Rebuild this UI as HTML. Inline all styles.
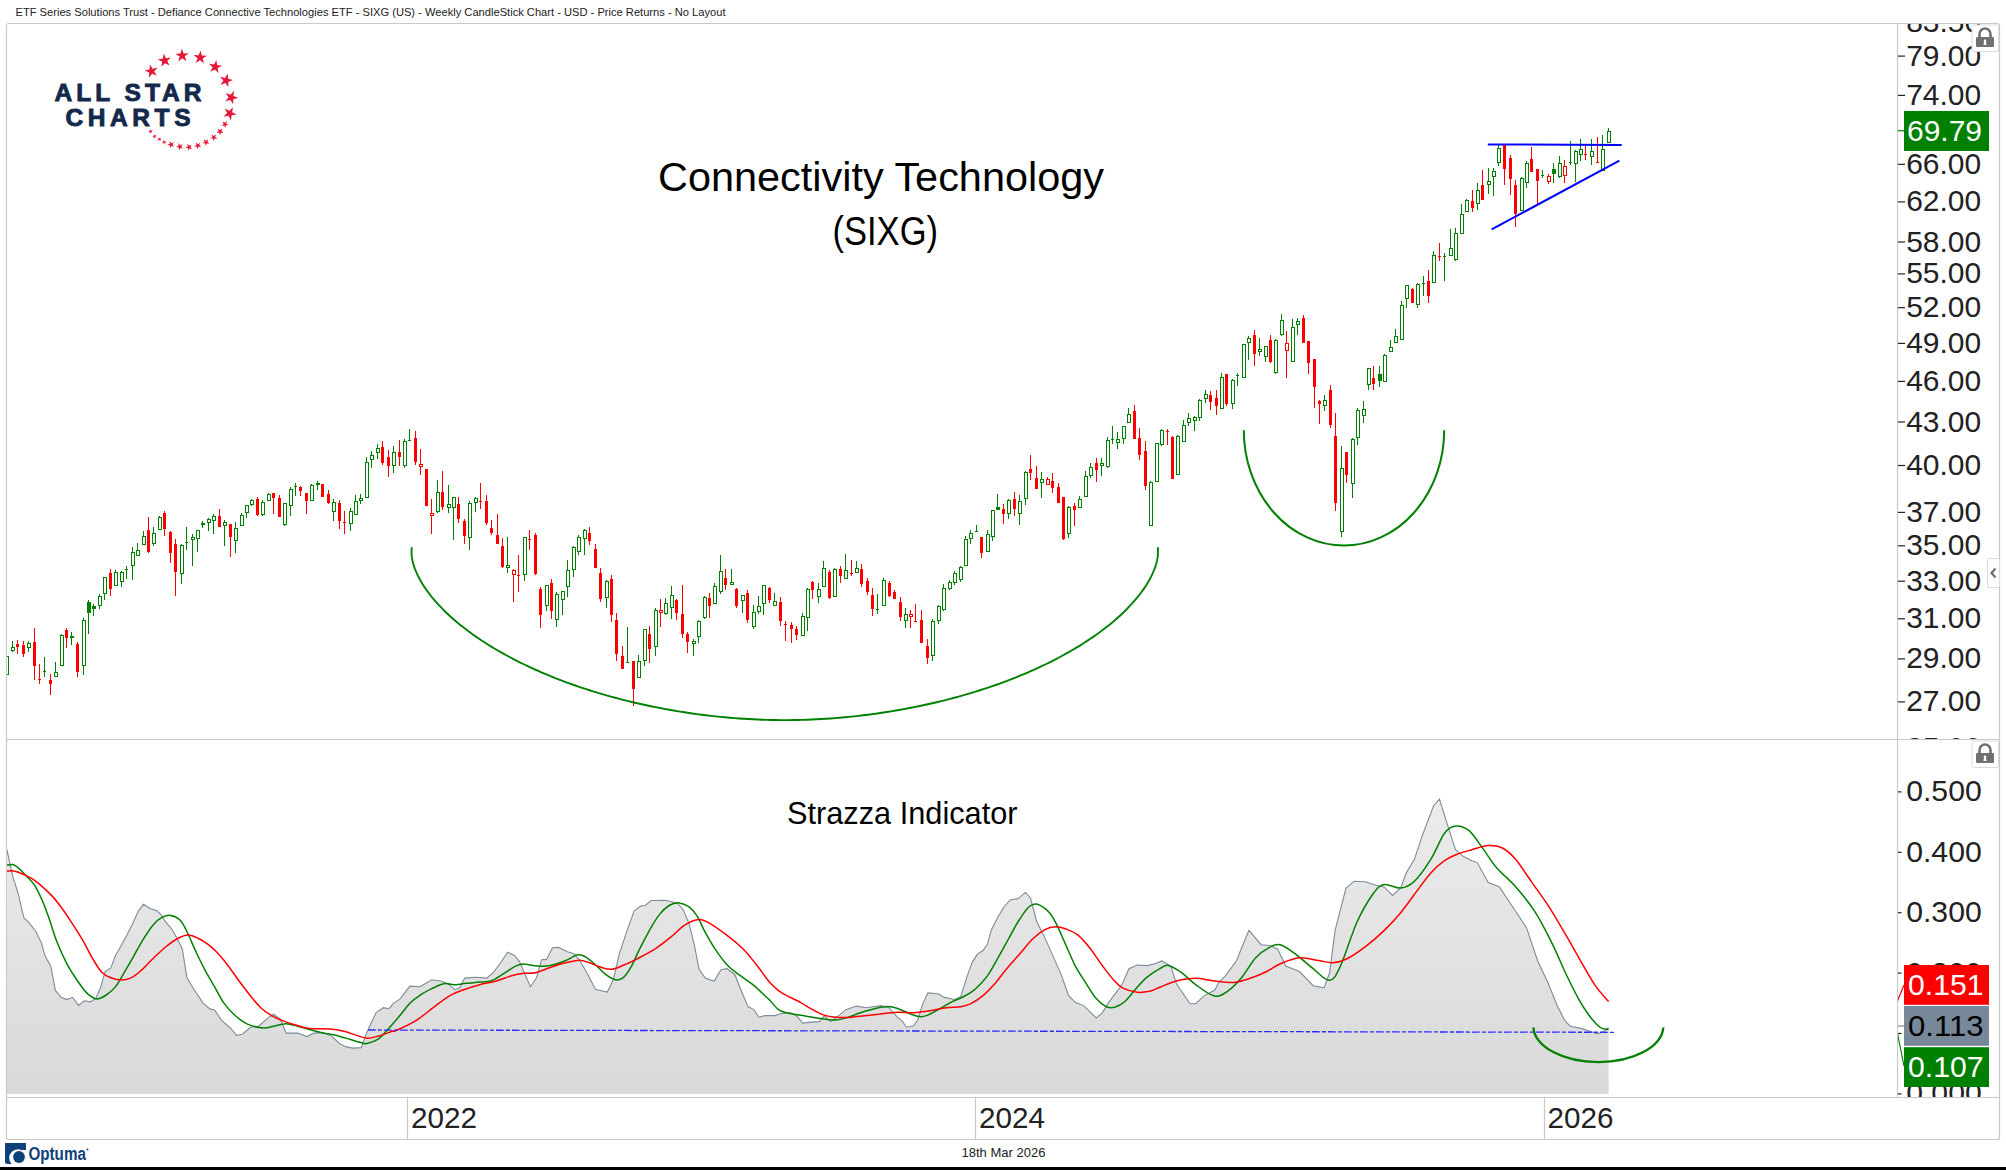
<!DOCTYPE html>
<html><head><meta charset="utf-8"><title>SIXG Weekly Chart</title>
<style>
html,body{margin:0;padding:0;background:#fff;width:2006px;height:1170px;overflow:hidden;}
svg{display:block;font-family:"Liberation Sans", sans-serif;}
</style></head><body>
<svg width="2006" height="1170" viewBox="0 0 2006 1170">
<defs>
<linearGradient id="gf" x1="0" y1="795" x2="0" y2="1094" gradientUnits="userSpaceOnUse">
<stop offset="0" stop-color="#ececec"/><stop offset="1" stop-color="#d9d9d9"/>
</linearGradient>
<clipPath id="cp1"><rect x="7" y="24" width="1890" height="715"/></clipPath>
<clipPath id="cp2"><rect x="7" y="740" width="1890" height="357"/></clipPath>
<clipPath id="ax1"><rect x="1898" y="24" width="101" height="715"/></clipPath>
<clipPath id="ax2"><rect x="1898" y="740" width="101" height="357"/></clipPath>
<symbol id="star" viewBox="-1 -1 2 2"><polygon points="0,-1 0.2245,-0.309 0.951,-0.309 0.363,0.118 0.588,0.809 0,0.382 -0.588,0.809 -0.363,0.118 -0.951,-0.309 -0.2245,-0.309" fill="#e31937"/></symbol>
</defs>
<rect width="2006" height="1170" fill="#fff"/>
<text x="15.5" y="16" font-size="11" fill="#222" textLength="710" lengthAdjust="spacingAndGlyphs">ETF Series Solutions Trust - Defiance Connective Technologies ETF - SIXG (US) - Weekly CandleStick Chart - USD - Price Returns - No Layout</text>
<rect x="6.5" y="23.5" width="1993" height="1116" rx="2" fill="none" stroke="#c9c9c9" stroke-width="1.2"/>
<line x1="1897.5" y1="23.5" x2="1897.5" y2="1097.5" stroke="#c9c9c9" stroke-width="1.2"/>
<line x1="6.5" y1="739.5" x2="1999.5" y2="739.5" stroke="#c9c9c9" stroke-width="1.2"/>
<line x1="6.5" y1="1097.5" x2="1999.5" y2="1097.5" stroke="#c9c9c9" stroke-width="1.2"/>
<line x1="407.5" y1="1097.5" x2="407.5" y2="1139.5" stroke="#c9c9c9" stroke-width="1.2"/>
<line x1="975.5" y1="1097.5" x2="975.5" y2="1139.5" stroke="#c9c9c9" stroke-width="1.2"/>
<line x1="1544.5" y1="1097.5" x2="1544.5" y2="1139.5" stroke="#c9c9c9" stroke-width="1.2"/>
<text x="411" y="1128" font-size="30" fill="#222" textLength="66" lengthAdjust="spacingAndGlyphs">2022</text>
<text x="979" y="1128" font-size="30" fill="#222" textLength="66" lengthAdjust="spacingAndGlyphs">2024</text>
<text x="1547.5" y="1128" font-size="30" fill="#222" textLength="66" lengthAdjust="spacingAndGlyphs">2026</text>
<text x="961.5" y="1157.3" font-size="13.5" fill="#222" textLength="84" lengthAdjust="spacingAndGlyphs">18th Mar 2026</text>
<rect x="0" y="1167" width="2006" height="3" fill="#000"/>
<rect x="5" y="1143" width="21" height="21" rx="2.5" fill="#0d4178"/>
<circle cx="18" cy="1158" r="8.8" fill="#fff"/><rect x="20" y="1150" width="7" height="15" fill="#fff"/><rect x="5" y="1143" width="21" height="4.5" fill="#0d4178"/><path d="M26 1147 L26 1150 L23.5 1150 Z" fill="#0d4178"/><circle cx="19" cy="1157" r="5.9" fill="#0d4178"/>
<text x="28.4" y="1160" font-size="17.5" font-weight="bold" fill="#0d4178" textLength="57.5" lengthAdjust="spacingAndGlyphs">Optuma</text><circle cx="87.5" cy="1149.5" r="0.9" fill="#0d4178"/>
<text x="54.5" y="101.2" font-size="24.5" font-weight="bold" fill="#13294b" stroke="#13294b" stroke-width="0.9" textLength="147" lengthAdjust="spacing">ALL STAR</text>
<text x="65.5" y="126" font-size="24.5" font-weight="bold" fill="#13294b" stroke="#13294b" stroke-width="0.9" textLength="125" lengthAdjust="spacing">CHARTS</text>
<use href="#star" x="144.5" y="64.1" width="14.1" height="14.1" transform="rotate(-13.1 151.6 71.2)"/>
<use href="#star" x="157.6" y="53.5" width="14.1" height="14.1" transform="rotate(-8.2 164.7 60.6)"/>
<use href="#star" x="175.1" y="48.6" width="14.1" height="14.1" transform="rotate(-2.7 182.2 55.7)"/>
<use href="#star" x="193.1" y="50.5" width="14.1" height="14.1" transform="rotate(3.0 200.2 57.6)"/>
<use href="#star" x="208.2" y="59.8" width="14.1" height="14.1" transform="rotate(8.8 215.3 66.9)"/>
<use href="#star" x="218.9" y="73.4" width="14.1" height="14.1" transform="rotate(14.8 226.0 80.5)"/>
<use href="#star" x="224.2" y="90.4" width="14.1" height="14.1" transform="rotate(21.1 231.3 97.5)"/>
<use href="#star" x="222.7" y="106.4" width="14.1" height="14.1" transform="rotate(26.8 229.8 113.5)"/>
<use href="#star" x="221.2" y="120.4" width="7.6" height="7.6" transform="rotate(30.9 225.0 124.2)"/>
<use href="#star" x="216.3" y="127.7" width="7.6" height="7.6" transform="rotate(34.0 220.1 131.5)"/>
<use href="#star" x="210.0" y="133.6" width="7.6" height="7.6" transform="rotate(36.9 213.8 137.4)"/>
<use href="#star" x="202.2" y="138.4" width="7.6" height="7.6" transform="rotate(39.9 206.0 142.2)"/>
<use href="#star" x="194.0" y="141.8" width="7.6" height="7.6" transform="rotate(42.8 197.8 145.6)"/>
<use href="#star" x="185.2" y="143.3" width="7.6" height="7.6" transform="rotate(45.6 189.0 147.1)"/>
<use href="#star" x="176.0" y="142.8" width="7.6" height="7.6" transform="rotate(48.5 179.8 146.6)"/>
<use href="#star" x="167.2" y="140.8" width="7.6" height="7.6" transform="rotate(51.2 171.0 144.6)"/>
<use href="#star" x="161.7" y="139.7" width="4.9" height="4.9" transform="rotate(53.3 164.2 142.2)"/>
<use href="#star" x="156.9" y="136.8" width="4.9" height="4.9" transform="rotate(55.0 159.4 139.3)"/>
<use href="#star" x="152.0" y="133.9" width="4.9" height="4.9" transform="rotate(56.6 154.5 136.4)"/>
<use href="#star" x="148.1" y="129.0" width="4.9" height="4.9" transform="rotate(58.4 150.6 131.5)"/>
<text x="658" y="190.8" font-size="41.5" fill="#000" textLength="446" lengthAdjust="spacingAndGlyphs">Connectivity Technology</text>
<text x="832.5" y="245.4" font-size="41.5" fill="#000" textLength="105.5" lengthAdjust="spacingAndGlyphs">(SIXG)</text>
<text x="787" y="824" font-size="30.5" fill="#000" textLength="230.5" lengthAdjust="spacingAndGlyphs">Strazza Indicator</text>
<g clip-path="url(#ax1)">
<line x1="1897.5" y1="22.8" x2="1905" y2="22.8" stroke="#222" stroke-width="1.2"/>
<text x="1906.2" y="32.3" font-size="30" fill="#222" textLength="75" lengthAdjust="spacingAndGlyphs">83.50</text>
<line x1="1897.5" y1="56.1" x2="1905" y2="56.1" stroke="#222" stroke-width="1.2"/>
<text x="1906.2" y="65.6" font-size="30" fill="#222" textLength="75" lengthAdjust="spacingAndGlyphs">79.00</text>
<line x1="1897.5" y1="95.4" x2="1905" y2="95.4" stroke="#222" stroke-width="1.2"/>
<text x="1906.2" y="104.9" font-size="30" fill="#222" textLength="75" lengthAdjust="spacingAndGlyphs">74.00</text>
<line x1="1897.5" y1="164.3" x2="1905" y2="164.3" stroke="#222" stroke-width="1.2"/>
<text x="1906.2" y="173.8" font-size="30" fill="#222" textLength="75" lengthAdjust="spacingAndGlyphs">66.00</text>
<line x1="1897.5" y1="201.9" x2="1905" y2="201.9" stroke="#222" stroke-width="1.2"/>
<text x="1906.2" y="211.4" font-size="30" fill="#222" textLength="75" lengthAdjust="spacingAndGlyphs">62.00</text>
<line x1="1897.5" y1="242.0" x2="1905" y2="242.0" stroke="#222" stroke-width="1.2"/>
<text x="1906.2" y="251.5" font-size="30" fill="#222" textLength="75" lengthAdjust="spacingAndGlyphs">58.00</text>
<line x1="1897.5" y1="273.9" x2="1905" y2="273.9" stroke="#222" stroke-width="1.2"/>
<text x="1906.2" y="283.4" font-size="30" fill="#222" textLength="75" lengthAdjust="spacingAndGlyphs">55.00</text>
<line x1="1897.5" y1="307.7" x2="1905" y2="307.7" stroke="#222" stroke-width="1.2"/>
<text x="1906.2" y="317.2" font-size="30" fill="#222" textLength="75" lengthAdjust="spacingAndGlyphs">52.00</text>
<line x1="1897.5" y1="343.4" x2="1905" y2="343.4" stroke="#222" stroke-width="1.2"/>
<text x="1906.2" y="352.9" font-size="30" fill="#222" textLength="75" lengthAdjust="spacingAndGlyphs">49.00</text>
<line x1="1897.5" y1="381.4" x2="1905" y2="381.4" stroke="#222" stroke-width="1.2"/>
<text x="1906.2" y="390.9" font-size="30" fill="#222" textLength="75" lengthAdjust="spacingAndGlyphs">46.00</text>
<line x1="1897.5" y1="422.0" x2="1905" y2="422.0" stroke="#222" stroke-width="1.2"/>
<text x="1906.2" y="431.5" font-size="30" fill="#222" textLength="75" lengthAdjust="spacingAndGlyphs">43.00</text>
<line x1="1897.5" y1="465.5" x2="1905" y2="465.5" stroke="#222" stroke-width="1.2"/>
<text x="1906.2" y="475.0" font-size="30" fill="#222" textLength="75" lengthAdjust="spacingAndGlyphs">40.00</text>
<line x1="1897.5" y1="512.4" x2="1905" y2="512.4" stroke="#222" stroke-width="1.2"/>
<text x="1906.2" y="521.9" font-size="30" fill="#222" textLength="75" lengthAdjust="spacingAndGlyphs">37.00</text>
<line x1="1897.5" y1="545.8" x2="1905" y2="545.8" stroke="#222" stroke-width="1.2"/>
<text x="1906.2" y="555.3" font-size="30" fill="#222" textLength="75" lengthAdjust="spacingAndGlyphs">35.00</text>
<line x1="1897.5" y1="581.2" x2="1905" y2="581.2" stroke="#222" stroke-width="1.2"/>
<text x="1906.2" y="590.7" font-size="30" fill="#222" textLength="75" lengthAdjust="spacingAndGlyphs">33.00</text>
<line x1="1897.5" y1="618.8" x2="1905" y2="618.8" stroke="#222" stroke-width="1.2"/>
<text x="1906.2" y="628.3" font-size="30" fill="#222" textLength="75" lengthAdjust="spacingAndGlyphs">31.00</text>
<line x1="1897.5" y1="658.9" x2="1905" y2="658.9" stroke="#222" stroke-width="1.2"/>
<text x="1906.2" y="668.4" font-size="30" fill="#222" textLength="75" lengthAdjust="spacingAndGlyphs">29.00</text>
<line x1="1897.5" y1="701.9" x2="1905" y2="701.9" stroke="#222" stroke-width="1.2"/>
<text x="1906.2" y="711.4" font-size="30" fill="#222" textLength="75" lengthAdjust="spacingAndGlyphs">27.00</text>
<line x1="1897.5" y1="748.2" x2="1905" y2="748.2" stroke="#222" stroke-width="1.2"/>
<text x="1906.2" y="757.7" font-size="30" fill="#222" textLength="75" lengthAdjust="spacingAndGlyphs">25.00</text>
<line x1="1897.5" y1="130.7" x2="1905" y2="130.7" stroke="#008000" stroke-width="1.2"/>
<rect x="1904" y="111" width="85" height="40" fill="#008000"/>
<text x="1907" y="141" font-size="30" fill="#fff" textLength="75" lengthAdjust="spacingAndGlyphs">69.79</text>
</g>
<g clip-path="url(#ax2)">
<line x1="1897.5" y1="791.9" x2="1901.5" y2="791.9" stroke="#222" stroke-width="1.2"/>
<text x="1906.2" y="801.4" font-size="30" fill="#222" textLength="75.5" lengthAdjust="spacingAndGlyphs">0.500</text>
<line x1="1897.5" y1="852.3" x2="1901.5" y2="852.3" stroke="#222" stroke-width="1.2"/>
<text x="1906.2" y="861.8" font-size="30" fill="#222" textLength="75.5" lengthAdjust="spacingAndGlyphs">0.400</text>
<line x1="1897.5" y1="912.7" x2="1901.5" y2="912.7" stroke="#222" stroke-width="1.2"/>
<text x="1906.2" y="922.2" font-size="30" fill="#222" textLength="75.5" lengthAdjust="spacingAndGlyphs">0.300</text>
<line x1="1897.5" y1="973.1" x2="1901.5" y2="973.1" stroke="#222" stroke-width="1.2"/>
<text x="1906.2" y="982.6" font-size="30" fill="#222" textLength="75.5" lengthAdjust="spacingAndGlyphs">0.200</text>
<line x1="1897.5" y1="1033.5" x2="1901.5" y2="1033.5" stroke="#222" stroke-width="1.2"/>
<text x="1906.2" y="1043.0" font-size="30" fill="#222" textLength="75.5" lengthAdjust="spacingAndGlyphs">0.100</text>
<line x1="1897.5" y1="1093.9" x2="1901.5" y2="1093.9" stroke="#222" stroke-width="1.2"/>
<text x="1906.2" y="1103.4" font-size="30" fill="#222" textLength="75.5" lengthAdjust="spacingAndGlyphs">0.000</text>
<line x1="1897" y1="1002" x2="1904" y2="985" stroke="#f00" stroke-width="1.2"/>
<line x1="1897" y1="1031" x2="1904" y2="1066" stroke="#008000" stroke-width="1.2"/>
<line x1="1897.5" y1="1026" x2="1905" y2="1026" stroke="#778899" stroke-width="1.2"/>
<rect x="1904" y="965" width="85" height="39.8" fill="#ff0000"/>
<text x="1908" y="995.0" font-size="30" fill="#fff" textLength="75.5" lengthAdjust="spacingAndGlyphs">0.151</text>
<rect x="1904" y="1006" width="85" height="39.8" fill="#778899"/>
<text x="1908" y="1036.0" font-size="30" fill="#000" textLength="75.5" lengthAdjust="spacingAndGlyphs">0.113</text>
<rect x="1904" y="1047.2" width="85" height="39.8" fill="#008000"/>
<text x="1908" y="1077.2" font-size="30" fill="#fff" textLength="75.5" lengthAdjust="spacingAndGlyphs">0.107</text>
</g>
<rect x="1972.0" y="25.0" width="26.5" height="26.5" rx="1.5" fill="#fff" stroke="#dcdcdc" stroke-width="1"/>
<path d="M1979.5 37.5 v-3.5 a5.5 5.5 0 0 1 11 0 v3.5" fill="none" stroke="#707070" stroke-width="2.6"/>
<rect x="1976.0" y="37.0" width="18" height="10" rx="1.2" fill="#707070"/>
<circle cx="1985.0" cy="40.8" r="1.3" fill="#fff"/><path d="M1984.1 41.0 h1.8 l0.6 4 h-3 z" fill="#fff"/>
<rect x="1972.0" y="741.0" width="26.5" height="26.5" rx="1.5" fill="#fff" stroke="#dcdcdc" stroke-width="1"/>
<path d="M1979.5 753.5 v-3.5 a5.5 5.5 0 0 1 11 0 v3.5" fill="none" stroke="#707070" stroke-width="2.6"/>
<rect x="1976.0" y="753.0" width="18" height="10" rx="1.2" fill="#707070"/>
<circle cx="1985.0" cy="756.8" r="1.3" fill="#fff"/><path d="M1984.1 757.0 h1.8 l0.6 4 h-3 z" fill="#fff"/>
<rect x="1987.5" y="558.5" width="12" height="29" rx="1.5" fill="#fff" stroke="#dcdcdc" stroke-width="1"/>
<path d="M1995.5 568.5 l-4 4.5 l4 4.5" fill="none" stroke="#6f6f6f" stroke-width="2.2"/>
<g clip-path="url(#cp1)">
<rect x="6.0" y="656" width="1" height="19" fill="#008000"/><rect x="5.0" y="656" width="4" height="19" fill="#008000"/><rect x="6.0" y="657" width="2" height="17" fill="#fff"/>
<rect x="12.0" y="641" width="1" height="11" fill="#008000"/><rect x="11.0" y="647" width="4" height="4" fill="#008000"/><rect x="12.0" y="648" width="2" height="2" fill="#fff"/>
<rect x="17.0" y="640" width="1" height="14" fill="#ff0000"/><rect x="16.0" y="644" width="3" height="3" fill="#ff0000"/>
<rect x="23.0" y="641" width="1" height="16" fill="#ff0000"/><rect x="22.0" y="645" width="3" height="9" fill="#ff0000"/>
<rect x="28.0" y="641" width="1" height="11" fill="#008000"/><rect x="27.0" y="643" width="4" height="5" fill="#008000"/><rect x="28.0" y="644" width="2" height="3" fill="#fff"/>
<rect x="34.0" y="628" width="1" height="52" fill="#ff0000"/><rect x="33.0" y="642" width="3" height="24" fill="#ff0000"/>
<rect x="39.0" y="664" width="1" height="20" fill="#ff0000"/><rect x="38.0" y="679" width="3" height="1" fill="#ff0000"/>
<rect x="44.0" y="657" width="1" height="20" fill="#008000"/><rect x="43.0" y="671" width="3" height="1" fill="#008000"/>
<rect x="50.0" y="674" width="1" height="21" fill="#ff0000"/><rect x="49.0" y="680" width="3" height="4" fill="#ff0000"/>
<rect x="55.0" y="662" width="1" height="15" fill="#008000"/><rect x="54.0" y="672" width="4" height="5" fill="#008000"/><rect x="55.0" y="673" width="2" height="3" fill="#fff"/>
<rect x="61.0" y="634" width="1" height="32" fill="#008000"/><rect x="60.0" y="635" width="4" height="31" fill="#008000"/><rect x="61.0" y="636" width="2" height="29" fill="#fff"/>
<rect x="66.0" y="628" width="1" height="20" fill="#ff0000"/><rect x="65.0" y="630" width="3" height="8" fill="#ff0000"/>
<rect x="71.0" y="632" width="1" height="13" fill="#008000"/><rect x="70.0" y="636" width="4" height="2" fill="#008000"/>
<rect x="77.0" y="642" width="1" height="35" fill="#ff0000"/><rect x="76.0" y="644" width="3" height="28" fill="#ff0000"/>
<rect x="83.0" y="618" width="1" height="57" fill="#008000"/><rect x="82.0" y="620" width="4" height="46" fill="#008000"/><rect x="83.0" y="621" width="2" height="44" fill="#fff"/>
<rect x="88.0" y="600" width="1" height="34" fill="#008000"/><rect x="87.0" y="602" width="4" height="11" fill="#008000"/>
<rect x="93.0" y="604" width="1" height="12" fill="#008000"/><rect x="92.0" y="606" width="4" height="3" fill="#008000"/>
<rect x="99.0" y="594" width="1" height="15" fill="#008000"/><rect x="98.0" y="596" width="4" height="10" fill="#008000"/><rect x="99.0" y="597" width="2" height="8" fill="#fff"/>
<rect x="104.0" y="577" width="1" height="23" fill="#008000"/><rect x="103.0" y="577" width="4" height="17" fill="#008000"/><rect x="104.0" y="578" width="2" height="15" fill="#fff"/>
<rect x="110.0" y="569" width="1" height="27" fill="#ff0000"/><rect x="109.0" y="573" width="3" height="16" fill="#ff0000"/>
<rect x="115.0" y="570" width="1" height="16" fill="#008000"/><rect x="114.0" y="572" width="4" height="14" fill="#008000"/><rect x="115.0" y="573" width="2" height="12" fill="#fff"/>
<rect x="121.0" y="571" width="1" height="16" fill="#008000"/><rect x="120.0" y="572" width="4" height="10" fill="#008000"/><rect x="121.0" y="573" width="2" height="8" fill="#fff"/>
<rect x="126.0" y="566" width="1" height="13" fill="#008000"/><rect x="125.0" y="569" width="3" height="1" fill="#008000"/>
<rect x="132.0" y="547" width="1" height="33" fill="#008000"/><rect x="131.0" y="552" width="4" height="14" fill="#008000"/><rect x="132.0" y="553" width="2" height="12" fill="#fff"/>
<rect x="137.0" y="543" width="1" height="13" fill="#008000"/><rect x="136.0" y="550" width="4" height="6" fill="#008000"/><rect x="137.0" y="551" width="2" height="4" fill="#fff"/>
<rect x="143.0" y="531" width="1" height="14" fill="#008000"/><rect x="142.0" y="536" width="4" height="9" fill="#008000"/><rect x="143.0" y="537" width="2" height="7" fill="#fff"/>
<rect x="148.0" y="517" width="1" height="36" fill="#ff0000"/><rect x="147.0" y="530" width="3" height="22" fill="#ff0000"/>
<rect x="153.0" y="527" width="1" height="19" fill="#008000"/><rect x="152.0" y="533" width="4" height="11" fill="#008000"/><rect x="153.0" y="534" width="2" height="9" fill="#fff"/>
<rect x="159.0" y="516" width="1" height="14" fill="#008000"/><rect x="158.0" y="517" width="4" height="13" fill="#008000"/><rect x="159.0" y="518" width="2" height="11" fill="#fff"/>
<rect x="164.0" y="511" width="1" height="25" fill="#ff0000"/><rect x="163.0" y="513" width="3" height="16" fill="#ff0000"/>
<rect x="170.0" y="531" width="1" height="32" fill="#ff0000"/><rect x="169.0" y="532" width="3" height="21" fill="#ff0000"/>
<rect x="175.0" y="539" width="1" height="57" fill="#ff0000"/><rect x="174.0" y="544" width="3" height="28" fill="#ff0000"/>
<rect x="181.0" y="544" width="1" height="40" fill="#008000"/><rect x="180.0" y="545" width="4" height="29" fill="#008000"/><rect x="181.0" y="546" width="2" height="27" fill="#fff"/>
<rect x="186.0" y="527" width="1" height="23" fill="#008000"/><rect x="185.0" y="542" width="3" height="1" fill="#008000"/>
<rect x="192.0" y="534" width="1" height="32" fill="#008000"/><rect x="191.0" y="537" width="4" height="3" fill="#008000"/><rect x="192.0" y="538" width="2" height="1" fill="#fff"/>
<rect x="197.0" y="530" width="1" height="22" fill="#008000"/><rect x="196.0" y="530" width="4" height="9" fill="#008000"/><rect x="197.0" y="531" width="2" height="7" fill="#fff"/>
<rect x="202.0" y="521" width="1" height="7" fill="#008000"/><rect x="201.0" y="523" width="4" height="2" fill="#008000"/>
<rect x="208.0" y="518" width="1" height="13" fill="#008000"/><rect x="207.0" y="519" width="4" height="4" fill="#008000"/><rect x="208.0" y="520" width="2" height="2" fill="#fff"/>
<rect x="213.0" y="514" width="1" height="20" fill="#008000"/><rect x="212.0" y="516" width="4" height="5" fill="#008000"/><rect x="213.0" y="517" width="2" height="3" fill="#fff"/>
<rect x="219.0" y="509" width="1" height="18" fill="#ff0000"/><rect x="218.0" y="516" width="3" height="11" fill="#ff0000"/>
<rect x="224.0" y="520" width="1" height="26" fill="#008000"/><rect x="223.0" y="522" width="4" height="4" fill="#008000"/><rect x="224.0" y="523" width="2" height="2" fill="#fff"/>
<rect x="230.0" y="524" width="1" height="33" fill="#ff0000"/><rect x="229.0" y="524" width="3" height="13" fill="#ff0000"/>
<rect x="235.0" y="522" width="1" height="31" fill="#008000"/><rect x="234.0" y="528" width="4" height="13" fill="#008000"/><rect x="235.0" y="529" width="2" height="11" fill="#fff"/>
<rect x="241.0" y="513" width="1" height="13" fill="#008000"/><rect x="240.0" y="515" width="4" height="11" fill="#008000"/><rect x="241.0" y="516" width="2" height="9" fill="#fff"/>
<rect x="246.0" y="505" width="1" height="13" fill="#008000"/><rect x="245.0" y="505" width="4" height="8" fill="#008000"/><rect x="246.0" y="506" width="2" height="6" fill="#fff"/>
<rect x="251.0" y="499" width="1" height="7" fill="#008000"/><rect x="250.0" y="500" width="4" height="5" fill="#008000"/><rect x="251.0" y="501" width="2" height="3" fill="#fff"/>
<rect x="257.0" y="497" width="1" height="19" fill="#ff0000"/><rect x="256.0" y="499" width="3" height="16" fill="#ff0000"/>
<rect x="262.0" y="500" width="1" height="16" fill="#008000"/><rect x="261.0" y="502" width="4" height="13" fill="#008000"/><rect x="262.0" y="503" width="2" height="11" fill="#fff"/>
<rect x="268.0" y="493" width="1" height="8" fill="#008000"/><rect x="267.0" y="494" width="4" height="7" fill="#008000"/><rect x="268.0" y="495" width="2" height="5" fill="#fff"/>
<rect x="273.0" y="493" width="1" height="21" fill="#ff0000"/><rect x="272.0" y="493" width="3" height="5" fill="#ff0000"/>
<rect x="279.0" y="495" width="1" height="22" fill="#ff0000"/><rect x="278.0" y="498" width="3" height="19" fill="#ff0000"/>
<rect x="284.0" y="503" width="1" height="23" fill="#008000"/><rect x="283.0" y="503" width="4" height="22" fill="#008000"/><rect x="284.0" y="504" width="2" height="20" fill="#fff"/>
<rect x="290.0" y="487" width="1" height="29" fill="#008000"/><rect x="289.0" y="489" width="4" height="17" fill="#008000"/><rect x="290.0" y="490" width="2" height="15" fill="#fff"/>
<rect x="295.0" y="483" width="1" height="13" fill="#008000"/><rect x="294.0" y="486" width="3" height="1" fill="#008000"/>
<rect x="300.0" y="486" width="1" height="10" fill="#ff0000"/><rect x="299.0" y="487" width="3" height="4" fill="#ff0000"/>
<rect x="306.0" y="493" width="1" height="21" fill="#ff0000"/><rect x="305.0" y="493" width="3" height="8" fill="#ff0000"/>
<rect x="311.0" y="484" width="1" height="17" fill="#008000"/><rect x="310.0" y="485" width="4" height="16" fill="#008000"/><rect x="311.0" y="486" width="2" height="14" fill="#fff"/>
<rect x="317.0" y="481" width="1" height="9" fill="#008000"/><rect x="316.0" y="483" width="4" height="2" fill="#008000"/>
<rect x="322.0" y="484" width="1" height="13" fill="#ff0000"/><rect x="321.0" y="484" width="3" height="13" fill="#ff0000"/>
<rect x="328.0" y="490" width="1" height="14" fill="#ff0000"/><rect x="327.0" y="494" width="3" height="9" fill="#ff0000"/>
<rect x="333.0" y="499" width="1" height="22" fill="#008000"/><rect x="332.0" y="502" width="4" height="10" fill="#008000"/><rect x="333.0" y="503" width="2" height="8" fill="#fff"/>
<rect x="339.0" y="500" width="1" height="29" fill="#ff0000"/><rect x="338.0" y="503" width="3" height="18" fill="#ff0000"/>
<rect x="344.0" y="511" width="1" height="23" fill="#ff0000"/><rect x="343.0" y="522" width="3" height="1" fill="#ff0000"/>
<rect x="350.0" y="508" width="1" height="23" fill="#008000"/><rect x="349.0" y="511" width="4" height="13" fill="#008000"/><rect x="350.0" y="512" width="2" height="11" fill="#fff"/>
<rect x="355.0" y="495" width="1" height="20" fill="#008000"/><rect x="354.0" y="501" width="4" height="14" fill="#008000"/><rect x="355.0" y="502" width="2" height="12" fill="#fff"/>
<rect x="360.0" y="494" width="1" height="10" fill="#008000"/><rect x="359.0" y="498" width="4" height="3" fill="#008000"/><rect x="360.0" y="499" width="2" height="1" fill="#fff"/>
<rect x="366.0" y="457" width="1" height="41" fill="#008000"/><rect x="365.0" y="462" width="4" height="36" fill="#008000"/><rect x="366.0" y="463" width="2" height="34" fill="#fff"/>
<rect x="371.0" y="451" width="1" height="17" fill="#008000"/><rect x="370.0" y="455" width="4" height="5" fill="#008000"/><rect x="371.0" y="456" width="2" height="3" fill="#fff"/>
<rect x="377.0" y="444" width="1" height="15" fill="#008000"/><rect x="376.0" y="448" width="4" height="5" fill="#008000"/><rect x="377.0" y="449" width="2" height="3" fill="#fff"/>
<rect x="382.0" y="441" width="1" height="24" fill="#ff0000"/><rect x="381.0" y="447" width="3" height="16" fill="#ff0000"/>
<rect x="388.0" y="450" width="1" height="27" fill="#ff0000"/><rect x="387.0" y="457" width="3" height="9" fill="#ff0000"/>
<rect x="393.0" y="446" width="1" height="27" fill="#008000"/><rect x="392.0" y="452" width="4" height="14" fill="#008000"/><rect x="393.0" y="453" width="2" height="12" fill="#fff"/>
<rect x="399.0" y="440" width="1" height="26" fill="#ff0000"/><rect x="398.0" y="452" width="3" height="5" fill="#ff0000"/>
<rect x="404.0" y="439" width="1" height="29" fill="#008000"/><rect x="403.0" y="441" width="4" height="25" fill="#008000"/><rect x="404.0" y="442" width="2" height="23" fill="#fff"/>
<rect x="409.0" y="429" width="1" height="12" fill="#008000"/><rect x="408.0" y="440" width="3" height="1" fill="#008000"/>
<rect x="415.0" y="431" width="1" height="34" fill="#ff0000"/><rect x="414.0" y="438" width="3" height="24" fill="#ff0000"/>
<rect x="420.0" y="449" width="1" height="26" fill="#ff0000"/><rect x="419.0" y="464" width="4" height="3" fill="#ff0000"/><rect x="420.0" y="465" width="2" height="1" fill="#fff"/>
<rect x="426.0" y="469" width="1" height="37" fill="#ff0000"/><rect x="425.0" y="469" width="3" height="37" fill="#ff0000"/>
<rect x="431.0" y="499" width="1" height="35" fill="#ff0000"/><rect x="430.0" y="513" width="4" height="3" fill="#ff0000"/><rect x="431.0" y="514" width="2" height="1" fill="#fff"/>
<rect x="437.0" y="480" width="1" height="33" fill="#008000"/><rect x="436.0" y="492" width="4" height="20" fill="#008000"/><rect x="437.0" y="493" width="2" height="18" fill="#fff"/>
<rect x="442.0" y="471" width="1" height="39" fill="#ff0000"/><rect x="441.0" y="492" width="3" height="15" fill="#ff0000"/>
<rect x="448.0" y="485" width="1" height="28" fill="#008000"/><rect x="447.0" y="504" width="4" height="4" fill="#008000"/><rect x="448.0" y="505" width="2" height="2" fill="#fff"/>
<rect x="453.0" y="497" width="1" height="43" fill="#008000"/><rect x="452.0" y="497" width="4" height="11" fill="#008000"/><rect x="453.0" y="498" width="2" height="9" fill="#fff"/>
<rect x="458.0" y="497" width="1" height="26" fill="#ff0000"/><rect x="457.0" y="504" width="3" height="15" fill="#ff0000"/>
<rect x="464.0" y="519" width="1" height="25" fill="#ff0000"/><rect x="463.0" y="521" width="3" height="15" fill="#ff0000"/>
<rect x="469.0" y="501" width="1" height="49" fill="#008000"/><rect x="468.0" y="503" width="4" height="35" fill="#008000"/><rect x="469.0" y="504" width="2" height="33" fill="#fff"/>
<rect x="475.0" y="497" width="1" height="15" fill="#008000"/><rect x="474.0" y="498" width="4" height="5" fill="#008000"/><rect x="475.0" y="499" width="2" height="3" fill="#fff"/>
<rect x="480.0" y="483" width="1" height="26" fill="#ff0000"/><rect x="479.0" y="501" width="3" height="1" fill="#ff0000"/>
<rect x="486.0" y="495" width="1" height="30" fill="#ff0000"/><rect x="485.0" y="501" width="3" height="22" fill="#ff0000"/>
<rect x="491.0" y="520" width="1" height="15" fill="#ff0000"/><rect x="490.0" y="528" width="3" height="5" fill="#ff0000"/>
<rect x="497.0" y="514" width="1" height="30" fill="#ff0000"/><rect x="496.0" y="535" width="3" height="9" fill="#ff0000"/>
<rect x="502.0" y="538" width="1" height="30" fill="#ff0000"/><rect x="501.0" y="546" width="3" height="21" fill="#ff0000"/>
<rect x="507.0" y="537" width="1" height="36" fill="#008000"/><rect x="506.0" y="565" width="4" height="3" fill="#008000"/><rect x="507.0" y="566" width="2" height="1" fill="#fff"/>
<rect x="513.0" y="569" width="1" height="33" fill="#ff0000"/><rect x="512.0" y="570" width="4" height="5" fill="#ff0000"/><rect x="513.0" y="571" width="2" height="3" fill="#fff"/>
<rect x="518.0" y="555" width="1" height="37" fill="#ff0000"/><rect x="517.0" y="575" width="3" height="1" fill="#ff0000"/>
<rect x="524.0" y="537" width="1" height="44" fill="#008000"/><rect x="523.0" y="537" width="4" height="38" fill="#008000"/><rect x="524.0" y="538" width="2" height="36" fill="#fff"/>
<rect x="529.0" y="530" width="1" height="20" fill="#ff0000"/><rect x="528.0" y="539" width="3" height="1" fill="#ff0000"/>
<rect x="535.0" y="533" width="1" height="42" fill="#ff0000"/><rect x="534.0" y="535" width="3" height="39" fill="#ff0000"/>
<rect x="540.0" y="587" width="1" height="41" fill="#ff0000"/><rect x="539.0" y="589" width="3" height="26" fill="#ff0000"/>
<rect x="546.0" y="585" width="1" height="26" fill="#008000"/><rect x="545.0" y="585" width="4" height="21" fill="#008000"/><rect x="546.0" y="586" width="2" height="19" fill="#fff"/>
<rect x="551.0" y="579" width="1" height="40" fill="#ff0000"/><rect x="550.0" y="583" width="3" height="28" fill="#ff0000"/>
<rect x="556.0" y="592" width="1" height="35" fill="#008000"/><rect x="555.0" y="594" width="4" height="26" fill="#008000"/><rect x="556.0" y="595" width="2" height="24" fill="#fff"/>
<rect x="562.0" y="591" width="1" height="24" fill="#008000"/><rect x="561.0" y="591" width="4" height="9" fill="#008000"/><rect x="562.0" y="592" width="2" height="7" fill="#fff"/>
<rect x="567.0" y="560" width="1" height="37" fill="#008000"/><rect x="566.0" y="570" width="4" height="17" fill="#008000"/><rect x="567.0" y="571" width="2" height="15" fill="#fff"/>
<rect x="573.0" y="546" width="1" height="31" fill="#008000"/><rect x="572.0" y="547" width="4" height="23" fill="#008000"/><rect x="573.0" y="548" width="2" height="21" fill="#fff"/>
<rect x="578.0" y="535" width="1" height="20" fill="#008000"/><rect x="577.0" y="537" width="4" height="15" fill="#008000"/><rect x="578.0" y="538" width="2" height="13" fill="#fff"/>
<rect x="584.0" y="529" width="1" height="26" fill="#008000"/><rect x="583.0" y="530" width="4" height="9" fill="#008000"/><rect x="584.0" y="531" width="2" height="7" fill="#fff"/>
<rect x="589.0" y="527" width="1" height="18" fill="#ff0000"/><rect x="588.0" y="533" width="3" height="8" fill="#ff0000"/>
<rect x="595.0" y="544" width="1" height="24" fill="#ff0000"/><rect x="594.0" y="549" width="3" height="19" fill="#ff0000"/>
<rect x="600.0" y="568" width="1" height="34" fill="#ff0000"/><rect x="599.0" y="573" width="3" height="26" fill="#ff0000"/>
<rect x="606.0" y="580" width="1" height="28" fill="#008000"/><rect x="605.0" y="581" width="4" height="17" fill="#008000"/><rect x="606.0" y="582" width="2" height="15" fill="#fff"/>
<rect x="611.0" y="575" width="1" height="47" fill="#ff0000"/><rect x="610.0" y="579" width="3" height="36" fill="#ff0000"/>
<rect x="616.0" y="613" width="1" height="48" fill="#ff0000"/><rect x="615.0" y="620" width="3" height="34" fill="#ff0000"/>
<rect x="622.0" y="646" width="1" height="23" fill="#ff0000"/><rect x="621.0" y="656" width="3" height="13" fill="#ff0000"/>
<rect x="627.0" y="627" width="1" height="36" fill="#008000"/><rect x="626.0" y="662" width="3" height="1" fill="#008000"/>
<rect x="633.0" y="661" width="1" height="45" fill="#ff0000"/><rect x="632.0" y="661" width="3" height="28" fill="#ff0000"/>
<rect x="638.0" y="655" width="1" height="23" fill="#008000"/><rect x="637.0" y="661" width="4" height="17" fill="#008000"/><rect x="638.0" y="662" width="2" height="15" fill="#fff"/>
<rect x="644.0" y="629" width="1" height="37" fill="#008000"/><rect x="643.0" y="629" width="4" height="32" fill="#008000"/><rect x="644.0" y="630" width="2" height="30" fill="#fff"/>
<rect x="649.0" y="626" width="1" height="37" fill="#ff0000"/><rect x="648.0" y="634" width="3" height="15" fill="#ff0000"/>
<rect x="655.0" y="608" width="1" height="48" fill="#008000"/><rect x="654.0" y="610" width="4" height="37" fill="#008000"/><rect x="655.0" y="611" width="2" height="35" fill="#fff"/>
<rect x="660.0" y="599" width="1" height="28" fill="#ff0000"/><rect x="659.0" y="610" width="4" height="3" fill="#ff0000"/><rect x="660.0" y="611" width="2" height="1" fill="#fff"/>
<rect x="665.0" y="598" width="1" height="17" fill="#008000"/><rect x="664.0" y="603" width="4" height="11" fill="#008000"/><rect x="665.0" y="604" width="2" height="9" fill="#fff"/>
<rect x="671.0" y="586" width="1" height="33" fill="#008000"/><rect x="670.0" y="595" width="4" height="13" fill="#008000"/><rect x="671.0" y="596" width="2" height="11" fill="#fff"/>
<rect x="676.0" y="599" width="1" height="21" fill="#ff0000"/><rect x="675.0" y="600" width="3" height="13" fill="#ff0000"/>
<rect x="682.0" y="585" width="1" height="53" fill="#ff0000"/><rect x="681.0" y="614" width="3" height="20" fill="#ff0000"/>
<rect x="687.0" y="632" width="1" height="21" fill="#ff0000"/><rect x="686.0" y="634" width="3" height="8" fill="#ff0000"/>
<rect x="693.0" y="639" width="1" height="17" fill="#008000"/><rect x="692.0" y="641" width="4" height="3" fill="#008000"/><rect x="693.0" y="642" width="2" height="1" fill="#fff"/>
<rect x="698.0" y="620" width="1" height="23" fill="#008000"/><rect x="697.0" y="621" width="4" height="16" fill="#008000"/><rect x="698.0" y="622" width="2" height="14" fill="#fff"/>
<rect x="704.0" y="596" width="1" height="23" fill="#008000"/><rect x="703.0" y="597" width="4" height="21" fill="#008000"/><rect x="704.0" y="598" width="2" height="19" fill="#fff"/>
<rect x="709.0" y="593" width="1" height="25" fill="#ff0000"/><rect x="708.0" y="598" width="3" height="8" fill="#ff0000"/>
<rect x="714.0" y="583" width="1" height="21" fill="#008000"/><rect x="713.0" y="586" width="4" height="18" fill="#008000"/><rect x="714.0" y="587" width="2" height="16" fill="#fff"/>
<rect x="720.0" y="555" width="1" height="39" fill="#008000"/><rect x="719.0" y="571" width="4" height="21" fill="#008000"/><rect x="720.0" y="572" width="2" height="19" fill="#fff"/>
<rect x="725.0" y="569" width="1" height="21" fill="#ff0000"/><rect x="724.0" y="578" width="3" height="7" fill="#ff0000"/>
<rect x="731.0" y="569" width="1" height="16" fill="#008000"/><rect x="730.0" y="582" width="4" height="3" fill="#008000"/><rect x="731.0" y="583" width="2" height="1" fill="#fff"/>
<rect x="736.0" y="588" width="1" height="20" fill="#ff0000"/><rect x="735.0" y="589" width="3" height="17" fill="#ff0000"/>
<rect x="742.0" y="595" width="1" height="18" fill="#008000"/><rect x="741.0" y="595" width="4" height="6" fill="#008000"/><rect x="742.0" y="596" width="2" height="4" fill="#fff"/>
<rect x="747.0" y="590" width="1" height="33" fill="#ff0000"/><rect x="746.0" y="593" width="3" height="27" fill="#ff0000"/>
<rect x="753.0" y="605" width="1" height="24" fill="#008000"/><rect x="752.0" y="612" width="4" height="15" fill="#008000"/><rect x="753.0" y="613" width="2" height="13" fill="#fff"/>
<rect x="758.0" y="596" width="1" height="18" fill="#008000"/><rect x="757.0" y="606" width="4" height="6" fill="#008000"/><rect x="758.0" y="607" width="2" height="4" fill="#fff"/>
<rect x="763.0" y="585" width="1" height="30" fill="#008000"/><rect x="762.0" y="585" width="4" height="19" fill="#008000"/><rect x="763.0" y="586" width="2" height="17" fill="#fff"/>
<rect x="769.0" y="587" width="1" height="16" fill="#ff0000"/><rect x="768.0" y="588" width="3" height="12" fill="#ff0000"/>
<rect x="774.0" y="593" width="1" height="13" fill="#008000"/><rect x="773.0" y="601" width="4" height="5" fill="#008000"/><rect x="774.0" y="602" width="2" height="3" fill="#fff"/>
<rect x="780.0" y="597" width="1" height="29" fill="#ff0000"/><rect x="779.0" y="602" width="3" height="19" fill="#ff0000"/>
<rect x="785.0" y="621" width="1" height="20" fill="#ff0000"/><rect x="784.0" y="624" width="3" height="1" fill="#ff0000"/>
<rect x="791.0" y="622" width="1" height="21" fill="#ff0000"/><rect x="790.0" y="625" width="3" height="4" fill="#ff0000"/>
<rect x="796.0" y="626" width="1" height="14" fill="#ff0000"/><rect x="795.0" y="629" width="3" height="6" fill="#ff0000"/>
<rect x="802.0" y="613" width="1" height="23" fill="#008000"/><rect x="801.0" y="616" width="4" height="20" fill="#008000"/><rect x="802.0" y="617" width="2" height="18" fill="#fff"/>
<rect x="807.0" y="588" width="1" height="43" fill="#008000"/><rect x="806.0" y="589" width="4" height="29" fill="#008000"/><rect x="807.0" y="590" width="2" height="27" fill="#fff"/>
<rect x="812.0" y="581" width="1" height="18" fill="#ff0000"/><rect x="811.0" y="582" width="3" height="8" fill="#ff0000"/>
<rect x="818.0" y="583" width="1" height="20" fill="#008000"/><rect x="817.0" y="589" width="4" height="8" fill="#008000"/><rect x="818.0" y="590" width="2" height="6" fill="#fff"/>
<rect x="823.0" y="561" width="1" height="26" fill="#008000"/><rect x="822.0" y="568" width="4" height="19" fill="#008000"/><rect x="823.0" y="569" width="2" height="17" fill="#fff"/>
<rect x="829.0" y="570" width="1" height="29" fill="#ff0000"/><rect x="828.0" y="572" width="3" height="26" fill="#ff0000"/>
<rect x="834.0" y="568" width="1" height="29" fill="#008000"/><rect x="833.0" y="569" width="4" height="28" fill="#008000"/><rect x="834.0" y="570" width="2" height="26" fill="#fff"/>
<rect x="840.0" y="566" width="1" height="17" fill="#ff0000"/><rect x="839.0" y="569" width="3" height="7" fill="#ff0000"/>
<rect x="845.0" y="554" width="1" height="25" fill="#008000"/><rect x="844.0" y="570" width="4" height="9" fill="#008000"/><rect x="845.0" y="571" width="2" height="7" fill="#fff"/>
<rect x="851.0" y="560" width="1" height="16" fill="#ff0000"/><rect x="850.0" y="573" width="3" height="1" fill="#ff0000"/>
<rect x="856.0" y="561" width="1" height="12" fill="#008000"/><rect x="855.0" y="568" width="4" height="5" fill="#008000"/><rect x="856.0" y="569" width="2" height="3" fill="#fff"/>
<rect x="861.0" y="564" width="1" height="23" fill="#ff0000"/><rect x="860.0" y="569" width="3" height="15" fill="#ff0000"/>
<rect x="867.0" y="578" width="1" height="17" fill="#ff0000"/><rect x="866.0" y="581" width="3" height="11" fill="#ff0000"/>
<rect x="872.0" y="588" width="1" height="28" fill="#ff0000"/><rect x="871.0" y="595" width="3" height="14" fill="#ff0000"/>
<rect x="877.0" y="594" width="1" height="20" fill="#008000"/><rect x="876.0" y="609" width="3" height="1" fill="#008000"/>
<rect x="883.0" y="578" width="1" height="28" fill="#008000"/><rect x="882.0" y="580" width="4" height="26" fill="#008000"/><rect x="883.0" y="581" width="2" height="24" fill="#fff"/>
<rect x="889.0" y="581" width="1" height="16" fill="#ff0000"/><rect x="888.0" y="583" width="3" height="13" fill="#ff0000"/>
<rect x="894.0" y="590" width="1" height="9" fill="#ff0000"/><rect x="893.0" y="592" width="3" height="7" fill="#ff0000"/>
<rect x="900.0" y="597" width="1" height="24" fill="#ff0000"/><rect x="899.0" y="602" width="3" height="15" fill="#ff0000"/>
<rect x="905.0" y="608" width="1" height="20" fill="#008000"/><rect x="904.0" y="614" width="4" height="7" fill="#008000"/><rect x="905.0" y="615" width="2" height="5" fill="#fff"/>
<rect x="910.0" y="610" width="1" height="18" fill="#ff0000"/><rect x="909.0" y="614" width="4" height="3" fill="#ff0000"/><rect x="910.0" y="615" width="2" height="1" fill="#fff"/>
<rect x="915.0" y="604" width="1" height="17" fill="#ff0000"/><rect x="914.0" y="621" width="3" height="1" fill="#ff0000"/>
<rect x="921.0" y="610" width="1" height="33" fill="#ff0000"/><rect x="920.0" y="620" width="3" height="23" fill="#ff0000"/>
<rect x="927.0" y="639" width="1" height="25" fill="#ff0000"/><rect x="926.0" y="646" width="3" height="12" fill="#ff0000"/>
<rect x="932.0" y="619" width="1" height="42" fill="#008000"/><rect x="931.0" y="621" width="4" height="35" fill="#008000"/><rect x="932.0" y="622" width="2" height="33" fill="#fff"/>
<rect x="938.0" y="605" width="1" height="19" fill="#008000"/><rect x="937.0" y="606" width="4" height="15" fill="#008000"/><rect x="938.0" y="607" width="2" height="13" fill="#fff"/>
<rect x="943.0" y="584" width="1" height="27" fill="#008000"/><rect x="942.0" y="588" width="4" height="22" fill="#008000"/><rect x="943.0" y="589" width="2" height="20" fill="#fff"/>
<rect x="949.0" y="580" width="1" height="10" fill="#008000"/><rect x="948.0" y="582" width="4" height="7" fill="#008000"/><rect x="949.0" y="583" width="2" height="5" fill="#fff"/>
<rect x="954.0" y="571" width="1" height="14" fill="#008000"/><rect x="953.0" y="573" width="4" height="10" fill="#008000"/><rect x="954.0" y="574" width="2" height="8" fill="#fff"/>
<rect x="960.0" y="566" width="1" height="16" fill="#008000"/><rect x="959.0" y="567" width="4" height="13" fill="#008000"/><rect x="960.0" y="568" width="2" height="11" fill="#fff"/>
<rect x="965.0" y="536" width="1" height="30" fill="#008000"/><rect x="964.0" y="539" width="4" height="27" fill="#008000"/><rect x="965.0" y="540" width="2" height="25" fill="#fff"/>
<rect x="970.0" y="530" width="1" height="14" fill="#008000"/><rect x="969.0" y="533" width="4" height="6" fill="#008000"/><rect x="970.0" y="534" width="2" height="4" fill="#fff"/>
<rect x="976.0" y="525" width="1" height="7" fill="#008000"/><rect x="975.0" y="531" width="3" height="1" fill="#008000"/>
<rect x="981.0" y="537" width="1" height="21" fill="#ff0000"/><rect x="980.0" y="537" width="3" height="16" fill="#ff0000"/>
<rect x="987.0" y="530" width="1" height="22" fill="#008000"/><rect x="986.0" y="534" width="4" height="18" fill="#008000"/><rect x="987.0" y="535" width="2" height="16" fill="#fff"/>
<rect x="992.0" y="510" width="1" height="31" fill="#008000"/><rect x="991.0" y="510" width="4" height="27" fill="#008000"/><rect x="992.0" y="511" width="2" height="25" fill="#fff"/>
<rect x="997.0" y="494" width="1" height="16" fill="#008000"/><rect x="996.0" y="507" width="4" height="3" fill="#008000"/>
<rect x="1003.0" y="504" width="1" height="20" fill="#ff0000"/><rect x="1002.0" y="509" width="3" height="5" fill="#ff0000"/>
<rect x="1008.0" y="499" width="1" height="20" fill="#008000"/><rect x="1007.0" y="500" width="4" height="14" fill="#008000"/><rect x="1008.0" y="501" width="2" height="12" fill="#fff"/>
<rect x="1014.0" y="492" width="1" height="24" fill="#ff0000"/><rect x="1013.0" y="499" width="3" height="10" fill="#ff0000"/>
<rect x="1019.0" y="495" width="1" height="30" fill="#008000"/><rect x="1018.0" y="501" width="4" height="13" fill="#008000"/><rect x="1019.0" y="502" width="2" height="11" fill="#fff"/>
<rect x="1025.0" y="471" width="1" height="34" fill="#008000"/><rect x="1024.0" y="472" width="4" height="27" fill="#008000"/><rect x="1025.0" y="473" width="2" height="25" fill="#fff"/>
<rect x="1030.0" y="455" width="1" height="25" fill="#ff0000"/><rect x="1029.0" y="469" width="3" height="4" fill="#ff0000"/>
<rect x="1036.0" y="466" width="1" height="23" fill="#ff0000"/><rect x="1035.0" y="478" width="3" height="11" fill="#ff0000"/>
<rect x="1041.0" y="472" width="1" height="26" fill="#008000"/><rect x="1040.0" y="479" width="4" height="4" fill="#008000"/><rect x="1041.0" y="480" width="2" height="2" fill="#fff"/>
<rect x="1047.0" y="477" width="1" height="8" fill="#ff0000"/><rect x="1046.0" y="479" width="4" height="6" fill="#ff0000"/><rect x="1047.0" y="480" width="2" height="4" fill="#fff"/>
<rect x="1052.0" y="473" width="1" height="20" fill="#ff0000"/><rect x="1051.0" y="481" width="3" height="7" fill="#ff0000"/>
<rect x="1058.0" y="483" width="1" height="20" fill="#ff0000"/><rect x="1057.0" y="487" width="3" height="16" fill="#ff0000"/>
<rect x="1063.0" y="497" width="1" height="43" fill="#ff0000"/><rect x="1062.0" y="497" width="3" height="42" fill="#ff0000"/>
<rect x="1068.0" y="506" width="1" height="32" fill="#008000"/><rect x="1067.0" y="507" width="4" height="27" fill="#008000"/><rect x="1068.0" y="508" width="2" height="25" fill="#fff"/>
<rect x="1074.0" y="503" width="1" height="23" fill="#ff0000"/><rect x="1073.0" y="506" width="3" height="4" fill="#ff0000"/>
<rect x="1079.0" y="496" width="1" height="12" fill="#008000"/><rect x="1078.0" y="499" width="4" height="9" fill="#008000"/><rect x="1079.0" y="500" width="2" height="7" fill="#fff"/>
<rect x="1085.0" y="471" width="1" height="26" fill="#008000"/><rect x="1084.0" y="476" width="4" height="21" fill="#008000"/><rect x="1085.0" y="477" width="2" height="19" fill="#fff"/>
<rect x="1090.0" y="463" width="1" height="15" fill="#008000"/><rect x="1089.0" y="467" width="4" height="9" fill="#008000"/><rect x="1090.0" y="468" width="2" height="7" fill="#fff"/>
<rect x="1096.0" y="458" width="1" height="24" fill="#ff0000"/><rect x="1095.0" y="463" width="3" height="7" fill="#ff0000"/>
<rect x="1101.0" y="458" width="1" height="18" fill="#008000"/><rect x="1100.0" y="463" width="4" height="3" fill="#008000"/><rect x="1101.0" y="464" width="2" height="1" fill="#fff"/>
<rect x="1107.0" y="437" width="1" height="31" fill="#008000"/><rect x="1106.0" y="440" width="4" height="27" fill="#008000"/><rect x="1107.0" y="441" width="2" height="25" fill="#fff"/>
<rect x="1112.0" y="426" width="1" height="18" fill="#008000"/><rect x="1111.0" y="439" width="3" height="1" fill="#008000"/>
<rect x="1117.0" y="432" width="1" height="17" fill="#008000"/><rect x="1116.0" y="439" width="4" height="4" fill="#008000"/><rect x="1117.0" y="440" width="2" height="2" fill="#fff"/>
<rect x="1123.0" y="426" width="1" height="18" fill="#008000"/><rect x="1122.0" y="426" width="4" height="13" fill="#008000"/><rect x="1123.0" y="427" width="2" height="11" fill="#fff"/>
<rect x="1128.0" y="408" width="1" height="15" fill="#008000"/><rect x="1127.0" y="414" width="4" height="9" fill="#008000"/><rect x="1128.0" y="415" width="2" height="7" fill="#fff"/>
<rect x="1134.0" y="405" width="1" height="34" fill="#ff0000"/><rect x="1133.0" y="411" width="3" height="28" fill="#ff0000"/>
<rect x="1139.0" y="428" width="1" height="32" fill="#ff0000"/><rect x="1138.0" y="438" width="3" height="17" fill="#ff0000"/>
<rect x="1145.0" y="441" width="1" height="49" fill="#ff0000"/><rect x="1144.0" y="451" width="3" height="35" fill="#ff0000"/>
<rect x="1150.0" y="481" width="1" height="45" fill="#008000"/><rect x="1149.0" y="482" width="4" height="44" fill="#008000"/><rect x="1150.0" y="483" width="2" height="42" fill="#fff"/>
<rect x="1156.0" y="443" width="1" height="39" fill="#008000"/><rect x="1155.0" y="443" width="4" height="39" fill="#008000"/><rect x="1156.0" y="444" width="2" height="37" fill="#fff"/>
<rect x="1161.0" y="429" width="1" height="17" fill="#008000"/><rect x="1160.0" y="430" width="4" height="15" fill="#008000"/><rect x="1161.0" y="431" width="2" height="13" fill="#fff"/>
<rect x="1167.0" y="429" width="1" height="16" fill="#ff0000"/><rect x="1166.0" y="431" width="3" height="1" fill="#ff0000"/>
<rect x="1172.0" y="436" width="1" height="43" fill="#ff0000"/><rect x="1171.0" y="437" width="3" height="42" fill="#ff0000"/>
<rect x="1177.0" y="435" width="1" height="40" fill="#008000"/><rect x="1176.0" y="436" width="4" height="39" fill="#008000"/><rect x="1177.0" y="437" width="2" height="37" fill="#fff"/>
<rect x="1183.0" y="420" width="1" height="22" fill="#008000"/><rect x="1182.0" y="425" width="4" height="17" fill="#008000"/><rect x="1183.0" y="426" width="2" height="15" fill="#fff"/>
<rect x="1188.0" y="413" width="1" height="13" fill="#008000"/><rect x="1187.0" y="418" width="4" height="5" fill="#008000"/><rect x="1188.0" y="419" width="2" height="3" fill="#fff"/>
<rect x="1194.0" y="416" width="1" height="15" fill="#008000"/><rect x="1193.0" y="417" width="4" height="4" fill="#008000"/><rect x="1194.0" y="418" width="2" height="2" fill="#fff"/>
<rect x="1199.0" y="399" width="1" height="22" fill="#008000"/><rect x="1198.0" y="400" width="4" height="18" fill="#008000"/><rect x="1199.0" y="401" width="2" height="16" fill="#fff"/>
<rect x="1205.0" y="390" width="1" height="13" fill="#008000"/><rect x="1204.0" y="394" width="4" height="5" fill="#008000"/><rect x="1205.0" y="395" width="2" height="3" fill="#fff"/>
<rect x="1210.0" y="391" width="1" height="19" fill="#ff0000"/><rect x="1209.0" y="395" width="3" height="7" fill="#ff0000"/>
<rect x="1216.0" y="390" width="1" height="25" fill="#ff0000"/><rect x="1215.0" y="398" width="3" height="8" fill="#ff0000"/>
<rect x="1221.0" y="373" width="1" height="36" fill="#008000"/><rect x="1220.0" y="377" width="4" height="32" fill="#008000"/><rect x="1221.0" y="378" width="2" height="30" fill="#fff"/>
<rect x="1226.0" y="374" width="1" height="32" fill="#ff0000"/><rect x="1225.0" y="374" width="3" height="30" fill="#ff0000"/>
<rect x="1232.0" y="379" width="1" height="30" fill="#008000"/><rect x="1231.0" y="380" width="4" height="24" fill="#008000"/><rect x="1232.0" y="381" width="2" height="22" fill="#fff"/>
<rect x="1237.0" y="373" width="1" height="13" fill="#008000"/><rect x="1236.0" y="375" width="3" height="1" fill="#008000"/>
<rect x="1243.0" y="344" width="1" height="34" fill="#008000"/><rect x="1242.0" y="344" width="4" height="34" fill="#008000"/><rect x="1243.0" y="345" width="2" height="32" fill="#fff"/>
<rect x="1248.0" y="336" width="1" height="24" fill="#008000"/><rect x="1247.0" y="338" width="4" height="5" fill="#008000"/><rect x="1248.0" y="339" width="2" height="3" fill="#fff"/>
<rect x="1254.0" y="330" width="1" height="36" fill="#ff0000"/><rect x="1253.0" y="335" width="3" height="19" fill="#ff0000"/>
<rect x="1259.0" y="338" width="1" height="18" fill="#008000"/><rect x="1258.0" y="349" width="4" height="3" fill="#008000"/><rect x="1259.0" y="350" width="2" height="1" fill="#fff"/>
<rect x="1265.0" y="346" width="1" height="16" fill="#008000"/><rect x="1264.0" y="346" width="4" height="11" fill="#008000"/><rect x="1265.0" y="347" width="2" height="9" fill="#fff"/>
<rect x="1270.0" y="335" width="1" height="28" fill="#ff0000"/><rect x="1269.0" y="340" width="3" height="22" fill="#ff0000"/>
<rect x="1275.0" y="339" width="1" height="35" fill="#008000"/><rect x="1274.0" y="340" width="4" height="33" fill="#008000"/><rect x="1275.0" y="341" width="2" height="31" fill="#fff"/>
<rect x="1281.0" y="314" width="1" height="22" fill="#008000"/><rect x="1280.0" y="320" width="4" height="15" fill="#008000"/><rect x="1281.0" y="321" width="2" height="13" fill="#fff"/>
<rect x="1286.0" y="331" width="1" height="47" fill="#ff0000"/><rect x="1285.0" y="343" width="4" height="8" fill="#ff0000"/><rect x="1286.0" y="344" width="2" height="6" fill="#fff"/>
<rect x="1292.0" y="319" width="1" height="43" fill="#008000"/><rect x="1291.0" y="327" width="4" height="35" fill="#008000"/><rect x="1292.0" y="328" width="2" height="33" fill="#fff"/>
<rect x="1297.0" y="318" width="1" height="17" fill="#008000"/><rect x="1296.0" y="321" width="4" height="4" fill="#008000"/><rect x="1297.0" y="322" width="2" height="2" fill="#fff"/>
<rect x="1303.0" y="315" width="1" height="28" fill="#ff0000"/><rect x="1302.0" y="318" width="3" height="25" fill="#ff0000"/>
<rect x="1308.0" y="341" width="1" height="33" fill="#ff0000"/><rect x="1307.0" y="341" width="3" height="22" fill="#ff0000"/>
<rect x="1314.0" y="359" width="1" height="49" fill="#ff0000"/><rect x="1313.0" y="359" width="3" height="28" fill="#ff0000"/>
<rect x="1319.0" y="400" width="1" height="24" fill="#ff0000"/><rect x="1318.0" y="401" width="3" height="3" fill="#ff0000"/>
<rect x="1324.0" y="395" width="1" height="16" fill="#008000"/><rect x="1323.0" y="400" width="4" height="6" fill="#008000"/><rect x="1324.0" y="401" width="2" height="4" fill="#fff"/>
<rect x="1330.0" y="385" width="1" height="43" fill="#ff0000"/><rect x="1329.0" y="390" width="3" height="35" fill="#ff0000"/>
<rect x="1335.0" y="413" width="1" height="98" fill="#ff0000"/><rect x="1334.0" y="436" width="3" height="67" fill="#ff0000"/>
<rect x="1341.0" y="446" width="1" height="91" fill="#008000"/><rect x="1340.0" y="468" width="4" height="64" fill="#008000"/><rect x="1341.0" y="469" width="2" height="62" fill="#fff"/>
<rect x="1346.0" y="452" width="1" height="31" fill="#ff0000"/><rect x="1345.0" y="452" width="3" height="23" fill="#ff0000"/>
<rect x="1352.0" y="438" width="1" height="60" fill="#008000"/><rect x="1351.0" y="439" width="4" height="45" fill="#008000"/><rect x="1352.0" y="440" width="2" height="43" fill="#fff"/>
<rect x="1357.0" y="408" width="1" height="37" fill="#008000"/><rect x="1356.0" y="410" width="4" height="28" fill="#008000"/><rect x="1357.0" y="411" width="2" height="26" fill="#fff"/>
<rect x="1363.0" y="401" width="1" height="22" fill="#008000"/><rect x="1362.0" y="409" width="4" height="7" fill="#008000"/><rect x="1363.0" y="410" width="2" height="5" fill="#fff"/>
<rect x="1368.0" y="368" width="1" height="22" fill="#008000"/><rect x="1367.0" y="368" width="4" height="17" fill="#008000"/><rect x="1368.0" y="369" width="2" height="15" fill="#fff"/>
<rect x="1373.0" y="366" width="1" height="24" fill="#ff0000"/><rect x="1372.0" y="378" width="3" height="6" fill="#ff0000"/>
<rect x="1379.0" y="366" width="1" height="21" fill="#008000"/><rect x="1378.0" y="374" width="4" height="7" fill="#008000"/>
<rect x="1384.0" y="354" width="1" height="28" fill="#008000"/><rect x="1383.0" y="355" width="4" height="27" fill="#008000"/><rect x="1384.0" y="356" width="2" height="25" fill="#fff"/>
<rect x="1390.0" y="340" width="1" height="12" fill="#008000"/><rect x="1389.0" y="347" width="4" height="5" fill="#008000"/><rect x="1390.0" y="348" width="2" height="3" fill="#fff"/>
<rect x="1395.0" y="329" width="1" height="14" fill="#008000"/><rect x="1394.0" y="336" width="4" height="7" fill="#008000"/><rect x="1395.0" y="337" width="2" height="5" fill="#fff"/>
<rect x="1401.0" y="301" width="1" height="39" fill="#008000"/><rect x="1400.0" y="305" width="4" height="35" fill="#008000"/><rect x="1401.0" y="306" width="2" height="33" fill="#fff"/>
<rect x="1406.0" y="285" width="1" height="23" fill="#008000"/><rect x="1405.0" y="285" width="4" height="14" fill="#008000"/><rect x="1406.0" y="286" width="2" height="12" fill="#fff"/>
<rect x="1412.0" y="288" width="1" height="15" fill="#ff0000"/><rect x="1411.0" y="289" width="3" height="14" fill="#ff0000"/>
<rect x="1417.0" y="283" width="1" height="25" fill="#008000"/><rect x="1416.0" y="284" width="4" height="21" fill="#008000"/><rect x="1417.0" y="285" width="2" height="19" fill="#fff"/>
<rect x="1423.0" y="276" width="1" height="20" fill="#008000"/><rect x="1422.0" y="283" width="3" height="1" fill="#008000"/>
<rect x="1428.0" y="270" width="1" height="33" fill="#ff0000"/><rect x="1427.0" y="281" width="3" height="15" fill="#ff0000"/>
<rect x="1433.0" y="251" width="1" height="32" fill="#008000"/><rect x="1432.0" y="255" width="4" height="28" fill="#008000"/><rect x="1433.0" y="256" width="2" height="26" fill="#fff"/>
<rect x="1439.0" y="243" width="1" height="18" fill="#ff0000"/><rect x="1438.0" y="256" width="3" height="1" fill="#ff0000"/>
<rect x="1444.0" y="253" width="1" height="28" fill="#008000"/><rect x="1443.0" y="256" width="3" height="1" fill="#008000"/>
<rect x="1450.0" y="229" width="1" height="27" fill="#008000"/><rect x="1449.0" y="248" width="4" height="8" fill="#008000"/><rect x="1450.0" y="249" width="2" height="6" fill="#fff"/>
<rect x="1455.0" y="228" width="1" height="33" fill="#008000"/><rect x="1454.0" y="233" width="4" height="27" fill="#008000"/><rect x="1455.0" y="234" width="2" height="25" fill="#fff"/>
<rect x="1461.0" y="204" width="1" height="30" fill="#008000"/><rect x="1460.0" y="214" width="4" height="20" fill="#008000"/><rect x="1461.0" y="215" width="2" height="18" fill="#fff"/>
<rect x="1466.0" y="199" width="1" height="13" fill="#008000"/><rect x="1465.0" y="200" width="4" height="12" fill="#008000"/><rect x="1466.0" y="201" width="2" height="10" fill="#fff"/>
<rect x="1472.0" y="190" width="1" height="22" fill="#ff0000"/><rect x="1471.0" y="201" width="3" height="7" fill="#ff0000"/>
<rect x="1477.0" y="183" width="1" height="27" fill="#008000"/><rect x="1476.0" y="190" width="4" height="14" fill="#008000"/><rect x="1477.0" y="191" width="2" height="12" fill="#fff"/>
<rect x="1482.0" y="170" width="1" height="30" fill="#ff0000"/><rect x="1481.0" y="185" width="3" height="15" fill="#ff0000"/>
<rect x="1488.0" y="168" width="1" height="26" fill="#008000"/><rect x="1487.0" y="181" width="4" height="4" fill="#008000"/><rect x="1488.0" y="182" width="2" height="2" fill="#fff"/>
<rect x="1493.0" y="168" width="1" height="28" fill="#008000"/><rect x="1492.0" y="171" width="4" height="6" fill="#008000"/><rect x="1493.0" y="172" width="2" height="4" fill="#fff"/>
<rect x="1498.0" y="145" width="1" height="21" fill="#008000"/><rect x="1497.0" y="148" width="4" height="15" fill="#008000"/><rect x="1498.0" y="149" width="2" height="13" fill="#fff"/>
<rect x="1504.0" y="145" width="1" height="40" fill="#ff0000"/><rect x="1503.0" y="145" width="3" height="24" fill="#ff0000"/>
<rect x="1510.0" y="155" width="1" height="40" fill="#ff0000"/><rect x="1509.0" y="158" width="3" height="21" fill="#ff0000"/>
<rect x="1515.0" y="180" width="1" height="47" fill="#ff0000"/><rect x="1514.0" y="185" width="3" height="29" fill="#ff0000"/>
<rect x="1521.0" y="177" width="1" height="34" fill="#008000"/><rect x="1520.0" y="178" width="4" height="33" fill="#008000"/><rect x="1521.0" y="179" width="2" height="31" fill="#fff"/>
<rect x="1526.0" y="161" width="1" height="27" fill="#008000"/><rect x="1525.0" y="163" width="4" height="20" fill="#008000"/><rect x="1526.0" y="164" width="2" height="18" fill="#fff"/>
<rect x="1531.0" y="147" width="1" height="25" fill="#ff0000"/><rect x="1530.0" y="159" width="3" height="13" fill="#ff0000"/>
<rect x="1537.0" y="169" width="1" height="35" fill="#ff0000"/><rect x="1536.0" y="169" width="3" height="12" fill="#ff0000"/>
<rect x="1542.0" y="170" width="1" height="8" fill="#008000"/><rect x="1541.0" y="175" width="3" height="1" fill="#008000"/>
<rect x="1548.0" y="174" width="1" height="10" fill="#ff0000"/><rect x="1547.0" y="176" width="4" height="6" fill="#ff0000"/><rect x="1548.0" y="177" width="2" height="4" fill="#fff"/>
<rect x="1553.0" y="163" width="1" height="20" fill="#008000"/><rect x="1552.0" y="169" width="4" height="5" fill="#008000"/>
<rect x="1559.0" y="156" width="1" height="22" fill="#008000"/><rect x="1558.0" y="163" width="4" height="14" fill="#008000"/><rect x="1559.0" y="164" width="2" height="12" fill="#fff"/>
<rect x="1564.0" y="160" width="1" height="23" fill="#ff0000"/><rect x="1563.0" y="166" width="4" height="10" fill="#ff0000"/><rect x="1564.0" y="167" width="2" height="8" fill="#fff"/>
<rect x="1570.0" y="141" width="1" height="24" fill="#008000"/><rect x="1569.0" y="162" width="3" height="1" fill="#008000"/>
<rect x="1575.0" y="150" width="1" height="32" fill="#008000"/><rect x="1574.0" y="151" width="4" height="13" fill="#008000"/><rect x="1575.0" y="152" width="2" height="11" fill="#fff"/>
<rect x="1580.0" y="139" width="1" height="22" fill="#008000"/><rect x="1579.0" y="149" width="4" height="6" fill="#008000"/><rect x="1580.0" y="150" width="2" height="4" fill="#fff"/>
<rect x="1585.0" y="146" width="1" height="14" fill="#ff0000"/><rect x="1584.0" y="154" width="3" height="1" fill="#ff0000"/>
<rect x="1591.0" y="139" width="1" height="26" fill="#008000"/><rect x="1590.0" y="151" width="4" height="6" fill="#008000"/><rect x="1591.0" y="152" width="2" height="4" fill="#fff"/>
<rect x="1597.0" y="137" width="1" height="26" fill="#ff0000"/><rect x="1596.0" y="162" width="3" height="1" fill="#ff0000"/>
<rect x="1602.0" y="135" width="1" height="36" fill="#008000"/><rect x="1601.0" y="149" width="4" height="22" fill="#008000"/><rect x="1602.0" y="150" width="2" height="20" fill="#fff"/>
<rect x="1608.0" y="128" width="1" height="15" fill="#008000"/><rect x="1607.0" y="131" width="4" height="12" fill="#008000"/><rect x="1608.0" y="132" width="2" height="10" fill="#fff"/>
</g>
<path d="M411.6 547.2 L411.56 553.50 L411.59 554.51 L411.69 555.78 L411.86 557.17 L412.09 558.65 L412.38 560.20 L412.75 561.80 L413.18 563.45 L413.67 565.14 L414.23 566.86 L414.85 568.62 L415.54 570.40 L416.30 572.22 L417.12 574.05 L418.01 575.91 L418.96 577.78 L419.97 579.67 L421.05 581.58 L422.20 583.50 L423.40 585.43 L424.68 587.38 L426.01 589.33 L427.41 591.30 L428.87 593.27 L430.39 595.25 L431.98 597.23 L433.63 599.22 L435.34 601.22 L437.11 603.21 L438.94 605.21 L440.84 607.21 L442.79 609.21 L444.81 611.21 L446.88 613.21 L449.02 615.21 L451.21 617.21 L453.46 619.20 L455.77 621.18 L458.14 623.17 L460.56 625.14 L463.04 627.11 L465.58 629.08 L468.17 631.03 L470.82 632.98 L473.52 634.92 L476.28 636.85 L479.09 638.77 L481.95 640.67 L484.87 642.57 L487.84 644.46 L490.86 646.33 L493.93 648.19 L497.05 650.04 L500.23 651.87 L503.45 653.68 L506.72 655.49 L510.03 657.27 L513.40 659.04 L516.81 660.80 L520.27 662.53 L523.77 664.25 L527.32 665.95 L530.91 667.63 L534.55 669.29 L538.22 670.93 L541.94 672.55 L545.70 674.15 L549.50 675.73 L553.34 677.29 L557.22 678.82 L561.14 680.34 L565.10 681.83 L569.09 683.29 L573.12 684.74 L577.18 686.15 L581.27 687.55 L585.40 688.92 L589.57 690.26 L593.76 691.58 L597.99 692.87 L602.24 694.14 L606.53 695.38 L610.84 696.59 L615.18 697.77 L619.55 698.93 L623.94 700.06 L628.36 701.16 L632.80 702.23 L637.26 703.28 L641.75 704.29 L646.25 705.28 L650.78 706.23 L655.32 707.16 L659.89 708.05 L664.47 708.92 L669.06 709.75 L673.67 710.55 L678.30 711.32 L682.93 712.06 L687.58 712.77 L692.24 713.45 L696.91 714.09 L701.58 714.71 L706.27 715.29 L710.95 715.84 L715.64 716.35 L720.34 716.84 L725.03 717.29 L729.73 717.71 L734.42 718.09 L739.10 718.44 L743.78 718.76 L748.45 719.04 L753.11 719.30 L757.75 719.51 L762.37 719.70 L766.97 719.85 L771.53 719.97 L776.05 720.05 L780.49 720.10 L784.74 720.12 L788.99 720.10 L793.43 720.05 L797.95 719.97 L802.51 719.85 L807.11 719.70 L811.73 719.51 L816.37 719.30 L821.03 719.04 L825.70 718.76 L830.38 718.44 L835.06 718.09 L839.75 717.71 L844.45 717.29 L849.14 716.84 L853.84 716.35 L858.53 715.84 L863.21 715.29 L867.90 714.71 L872.57 714.09 L877.24 713.45 L881.90 712.77 L886.55 712.06 L891.18 711.32 L895.81 710.55 L900.42 709.75 L905.01 708.92 L909.59 708.05 L914.16 707.16 L918.70 706.23 L923.23 705.28 L927.73 704.29 L932.22 703.28 L936.68 702.23 L941.12 701.16 L945.54 700.06 L949.93 698.93 L954.30 697.77 L958.64 696.59 L962.95 695.38 L967.24 694.14 L971.49 692.87 L975.72 691.58 L979.91 690.26 L984.08 688.92 L988.21 687.55 L992.30 686.15 L996.36 684.74 L1000.39 683.29 L1004.38 681.83 L1008.34 680.34 L1012.26 678.82 L1016.14 677.29 L1019.98 675.73 L1023.78 674.15 L1027.54 672.55 L1031.26 670.93 L1034.93 669.29 L1038.57 667.63 L1042.16 665.95 L1045.71 664.25 L1049.21 662.53 L1052.67 660.80 L1056.08 659.04 L1059.45 657.27 L1062.76 655.49 L1066.03 653.68 L1069.25 651.87 L1072.43 650.04 L1075.55 648.19 L1078.62 646.33 L1081.64 644.46 L1084.61 642.57 L1087.53 640.67 L1090.39 638.77 L1093.20 636.85 L1095.96 634.92 L1098.66 632.98 L1101.31 631.03 L1103.90 629.08 L1106.44 627.11 L1108.92 625.14 L1111.34 623.17 L1113.71 621.18 L1116.02 619.20 L1118.27 617.21 L1120.46 615.21 L1122.60 613.21 L1124.67 611.21 L1126.69 609.21 L1128.64 607.21 L1130.54 605.21 L1132.37 603.21 L1134.14 601.22 L1135.85 599.22 L1137.50 597.23 L1139.09 595.25 L1140.61 593.27 L1142.07 591.30 L1143.47 589.33 L1144.80 587.38 L1146.08 585.43 L1147.28 583.50 L1148.43 581.58 L1149.51 579.67 L1150.52 577.78 L1151.47 575.91 L1152.36 574.05 L1153.18 572.22 L1153.94 570.40 L1154.63 568.62 L1155.25 566.86 L1155.81 565.14 L1156.30 563.45 L1156.73 561.80 L1157.10 560.20 L1157.39 558.65 L1157.62 557.17 L1157.79 555.78 L1157.89 554.51 L1157.92 553.50 L1157.9 547.2" fill="none" stroke="#008000" stroke-width="1.9" stroke-linejoin="round"/>
<path d="M1243.8 430.2 A100.2 115.4 0 0 0 1444.2 430.2" fill="none" stroke="#008000" stroke-width="2"/>
<line x1="1487.8" y1="144.4" x2="1621.7" y2="145" stroke="#0000ff" stroke-width="2"/>
<line x1="1491.7" y1="229.4" x2="1619.4" y2="160.6" stroke="#0000ff" stroke-width="2"/>
<g clip-path="url(#cp2)">
<path d="M6.9 849.6 L12.7 876.2 L18.5 894.6 L23.8 917.7 L28.8 922.3 L35.8 931.5 L41.5 943.1 L45.0 955.8 L50.8 966.2 L55.4 990.4 L61.2 997.3 L66.9 999.6 L72.7 997.3 L78.5 1005.4 L84.2 1000.8 L90.0 1001.9 L95.8 998.5 L100.4 988.1 L105.0 971.9 L110.8 968.0 L115.4 955.8 L121.2 945.4 L126.9 935.0 L132.7 923.5 L138.5 910.8 L143.5 904.3 L150.0 908.5 L156.9 910.8 L161.6 915.4 L165.0 921.2 L171.9 929.2 L177.7 939.6 L182.3 948.9 L186.9 977.7 L193.9 989.2 L203.1 1003.1 L210.0 1008.9 L214.6 1010.0 L221.6 1020.4 L230.8 1028.5 L236.6 1035.4 L242.3 1034.2 L250.4 1027.3 L258.5 1026.2 L267.7 1018.1 L273.5 1014.2 L280.4 1019.2 L286.2 1033.1 L297.7 1033.1 L306.9 1036.6 L313.9 1033.1 L323.1 1032.6 L332.3 1036.6 L339.3 1043.5 L346.2 1046.9 L353.1 1048.1 L361.2 1047.6 L367.0 1031.9 L376.2 1012.3 L383.6 1007.7 L388.0 1008.6 L390.0 1007.7 L393.0 1003.6 L399.9 999.2 L409.9 986.1 L419.9 986.7 L431.8 979.7 L441.8 981.3 L447.8 983.7 L454.8 989.7 L459.8 987.7 L464.7 978.1 L475.7 977.3 L486.7 978.1 L493.7 972.1 L500.6 962.8 L507.6 952.2 L514.6 955.4 L519.6 961.8 L525.6 975.7 L530.5 986.7 L536.5 977.7 L541.5 959.8 L546.5 959.4 L552.5 947.8 L558.5 947.4 L567.4 951.8 L573.4 953.4 L579.4 959.8 L587.4 973.7 L595.4 989.3 L601.3 990.7 L607.3 992.1 L613.3 979.7 L619.3 953.8 L627.3 929.9 L634.2 910.9 L641.2 905.9 L645.2 905.5 L651.2 900.5 L665.1 900.3 L677.1 902.9 L683.1 909.5 L689.1 923.9 L694.1 943.8 L699.0 968.7 L705.0 977.7 L714.0 981.3 L721.0 969.7 L727.0 968.7 L734.9 974.7 L740.9 989.7 L747.9 1006.6 L753.9 1009.6 L758.9 1017.2 L764.8 1015.6 L774.8 1015.6 L780.3 1013.8 L790.5 1012.8 L796.7 1015.9 L802.8 1023.1 L811.0 1022.1 L819.2 1021.6 L824.4 1015.5 L830.5 1021.6 L839.7 1014.9 L845.9 1009.7 L856.2 1006.1 L866.4 1007.7 L880.8 1005.6 L889.0 1007.7 L897.2 1016.9 L902.3 1021.0 L906.4 1027.2 L913.6 1025.7 L917.7 1020.0 L922.8 1003.6 L927.9 992.9 L938.2 993.7 L944.4 997.4 L954.6 999.5 L960.8 996.4 L966.9 976.9 L972.1 962.6 L977.2 954.4 L983.3 950.3 L987.4 944.1 L991.5 929.7 L997.7 917.4 L1003.8 907.2 L1010.0 900.0 L1018.2 898.6 L1025.4 892.4 L1030.5 897.9 L1036.7 921.5 L1044.9 937.9 L1053.1 956.4 L1061.3 974.9 L1068.5 995.4 L1075.6 1002.6 L1083.8 1005.6 L1090.0 1011.8 L1096.2 1017.9 L1102.3 1012.8 L1108.5 1002.6 L1118.7 989.2 L1122.8 982.7 L1129.0 968.7 L1137.2 965.0 L1147.4 965.6 L1155.6 963.6 L1161.8 960.9 L1170.9 966.0 L1176.4 983.8 L1190.1 1003.7 L1195.6 1003.7 L1203.8 996.1 L1214.7 990.1 L1218.8 982.4 L1225.6 975.6 L1236.6 960.5 L1242.1 946.8 L1248.9 930.4 L1261.2 944.7 L1269.4 945.5 L1277.6 949.0 L1285.8 966.0 L1299.5 971.5 L1313.2 985.7 L1324.1 987.9 L1329.6 972.8 L1335.1 930.4 L1346.0 888.0 L1354.2 881.2 L1365.1 881.8 L1376.1 885.3 L1384.3 887.2 L1392.5 895.4 L1400.7 888.0 L1406.2 873.0 L1414.4 859.3 L1422.6 834.7 L1433.5 806.0 L1439.5 799.1 L1447.2 823.8 L1455.4 849.7 L1463.6 856.6 L1471.8 860.7 L1477.3 862.6 L1488.2 882.6 L1499.2 886.7 L1515.6 911.3 L1526.5 927.7 L1537.5 960.5 L1548.4 983.8 L1556.6 1004.3 L1564.8 1020.7 L1570.3 1026.2 L1581.2 1028.4 L1589.4 1031.1 L1597.6 1033.8 L1604.5 1031.1 L1608.6 1027.5 L1608.6 1094 L6.9 1094 Z" fill="url(#gf)"/>
<path d="M6.9 849.6 L12.7 876.2 L18.5 894.6 L23.8 917.7 L28.8 922.3 L35.8 931.5 L41.5 943.1 L45.0 955.8 L50.8 966.2 L55.4 990.4 L61.2 997.3 L66.9 999.6 L72.7 997.3 L78.5 1005.4 L84.2 1000.8 L90.0 1001.9 L95.8 998.5 L100.4 988.1 L105.0 971.9 L110.8 968.0 L115.4 955.8 L121.2 945.4 L126.9 935.0 L132.7 923.5 L138.5 910.8 L143.5 904.3 L150.0 908.5 L156.9 910.8 L161.6 915.4 L165.0 921.2 L171.9 929.2 L177.7 939.6 L182.3 948.9 L186.9 977.7 L193.9 989.2 L203.1 1003.1 L210.0 1008.9 L214.6 1010.0 L221.6 1020.4 L230.8 1028.5 L236.6 1035.4 L242.3 1034.2 L250.4 1027.3 L258.5 1026.2 L267.7 1018.1 L273.5 1014.2 L280.4 1019.2 L286.2 1033.1 L297.7 1033.1 L306.9 1036.6 L313.9 1033.1 L323.1 1032.6 L332.3 1036.6 L339.3 1043.5 L346.2 1046.9 L353.1 1048.1 L361.2 1047.6 L367.0 1031.9 L376.2 1012.3 L383.6 1007.7 L388.0 1008.6 L390.0 1007.7 L393.0 1003.6 L399.9 999.2 L409.9 986.1 L419.9 986.7 L431.8 979.7 L441.8 981.3 L447.8 983.7 L454.8 989.7 L459.8 987.7 L464.7 978.1 L475.7 977.3 L486.7 978.1 L493.7 972.1 L500.6 962.8 L507.6 952.2 L514.6 955.4 L519.6 961.8 L525.6 975.7 L530.5 986.7 L536.5 977.7 L541.5 959.8 L546.5 959.4 L552.5 947.8 L558.5 947.4 L567.4 951.8 L573.4 953.4 L579.4 959.8 L587.4 973.7 L595.4 989.3 L601.3 990.7 L607.3 992.1 L613.3 979.7 L619.3 953.8 L627.3 929.9 L634.2 910.9 L641.2 905.9 L645.2 905.5 L651.2 900.5 L665.1 900.3 L677.1 902.9 L683.1 909.5 L689.1 923.9 L694.1 943.8 L699.0 968.7 L705.0 977.7 L714.0 981.3 L721.0 969.7 L727.0 968.7 L734.9 974.7 L740.9 989.7 L747.9 1006.6 L753.9 1009.6 L758.9 1017.2 L764.8 1015.6 L774.8 1015.6 L780.3 1013.8 L790.5 1012.8 L796.7 1015.9 L802.8 1023.1 L811.0 1022.1 L819.2 1021.6 L824.4 1015.5 L830.5 1021.6 L839.7 1014.9 L845.9 1009.7 L856.2 1006.1 L866.4 1007.7 L880.8 1005.6 L889.0 1007.7 L897.2 1016.9 L902.3 1021.0 L906.4 1027.2 L913.6 1025.7 L917.7 1020.0 L922.8 1003.6 L927.9 992.9 L938.2 993.7 L944.4 997.4 L954.6 999.5 L960.8 996.4 L966.9 976.9 L972.1 962.6 L977.2 954.4 L983.3 950.3 L987.4 944.1 L991.5 929.7 L997.7 917.4 L1003.8 907.2 L1010.0 900.0 L1018.2 898.6 L1025.4 892.4 L1030.5 897.9 L1036.7 921.5 L1044.9 937.9 L1053.1 956.4 L1061.3 974.9 L1068.5 995.4 L1075.6 1002.6 L1083.8 1005.6 L1090.0 1011.8 L1096.2 1017.9 L1102.3 1012.8 L1108.5 1002.6 L1118.7 989.2 L1122.8 982.7 L1129.0 968.7 L1137.2 965.0 L1147.4 965.6 L1155.6 963.6 L1161.8 960.9 L1170.9 966.0 L1176.4 983.8 L1190.1 1003.7 L1195.6 1003.7 L1203.8 996.1 L1214.7 990.1 L1218.8 982.4 L1225.6 975.6 L1236.6 960.5 L1242.1 946.8 L1248.9 930.4 L1261.2 944.7 L1269.4 945.5 L1277.6 949.0 L1285.8 966.0 L1299.5 971.5 L1313.2 985.7 L1324.1 987.9 L1329.6 972.8 L1335.1 930.4 L1346.0 888.0 L1354.2 881.2 L1365.1 881.8 L1376.1 885.3 L1384.3 887.2 L1392.5 895.4 L1400.7 888.0 L1406.2 873.0 L1414.4 859.3 L1422.6 834.7 L1433.5 806.0 L1439.5 799.1 L1447.2 823.8 L1455.4 849.7 L1463.6 856.6 L1471.8 860.7 L1477.3 862.6 L1488.2 882.6 L1499.2 886.7 L1515.6 911.3 L1526.5 927.7 L1537.5 960.5 L1548.4 983.8 L1556.6 1004.3 L1564.8 1020.7 L1570.3 1026.2 L1581.2 1028.4 L1589.4 1031.1 L1597.6 1033.8 L1604.5 1031.1 L1608.6 1027.5" fill="none" stroke="#7d8b9a" stroke-width="1.1"/>
<path d="M6.9 865.1 C7.9 865.0 10.8 864.1 12.7 864.6 C14.6 865.1 16.3 866.3 18.5 868.1 C20.6 869.8 22.7 872.1 25.4 875.0 C28.1 877.9 31.7 881.0 34.6 885.4 C37.5 889.8 40.2 895.8 42.7 901.5 C45.2 907.3 47.3 913.5 49.6 920.0 C51.9 926.5 53.7 933.5 56.5 940.8 C59.4 948.1 63.3 956.9 66.9 963.9 C70.6 970.8 75.0 977.3 78.5 982.3 C81.9 987.3 84.6 991.1 87.7 993.9 C90.8 996.6 93.9 998.7 96.9 998.9 C100.0 999.1 103.1 997.0 106.2 995.0 C109.2 993.0 112.3 990.8 115.4 986.9 C118.5 983.1 121.5 977.1 124.6 971.9 C127.7 966.7 130.8 961.2 133.9 955.8 C136.9 950.4 139.8 944.8 143.1 939.6 C146.4 934.4 150.4 928.3 153.5 924.6 C156.6 921.0 158.7 919.2 161.6 917.7 C164.4 916.2 167.7 915.0 170.8 915.4 C173.9 915.8 177.3 917.3 180.0 920.0 C182.7 922.7 184.2 926.2 186.9 931.5 C189.6 936.9 193.1 945.8 196.2 952.3 C199.2 958.9 202.3 965.0 205.4 970.8 C208.5 976.5 211.6 981.6 214.6 986.9 C217.7 992.3 220.4 998.3 223.9 1003.1 C227.3 1007.9 231.6 1012.3 235.4 1015.8 C239.2 1019.2 242.3 1021.8 246.9 1023.9 C251.6 1025.9 258.9 1027.6 263.1 1028.0 C267.3 1028.5 268.9 1027.3 272.3 1026.6 C275.8 1025.9 280.4 1024.1 283.9 1023.9 C287.3 1023.6 288.9 1024.1 293.1 1025.0 C297.3 1026.0 304.3 1028.3 309.3 1029.6 C314.3 1031.0 318.9 1032.2 323.1 1033.1 C327.3 1034.0 330.4 1034.0 334.6 1034.9 C338.9 1035.9 344.3 1037.6 348.5 1038.9 C352.7 1040.1 357.0 1041.6 360.0 1042.3 C363.1 1043.1 363.9 1044.1 367.0 1043.5 C370.0 1042.9 374.6 1041.6 378.5 1038.9 C382.3 1036.1 386.4 1030.9 390.0 1027.0 C393.6 1023.1 396.6 1019.6 399.9 1015.6 C403.3 1011.6 406.6 1006.6 409.9 1003.2 C413.2 999.8 416.2 997.7 419.9 995.3 C423.5 992.8 427.9 990.6 431.8 988.7 C435.8 986.7 439.8 984.4 443.8 983.7 C447.8 983.0 452.1 984.8 455.8 984.7 C459.4 984.6 461.8 983.7 465.7 983.3 C469.7 982.9 475.4 982.5 479.7 982.1 C484.0 981.7 487.7 982.1 491.7 980.7 C495.7 979.3 499.6 976.1 503.6 973.7 C507.6 971.3 512.3 967.7 515.6 966.1 C518.9 964.5 519.9 964.1 523.6 964.1 C527.2 964.1 532.9 965.9 537.5 966.1 C542.2 966.3 546.8 966.2 551.5 965.3 C556.1 964.4 561.1 962.5 565.4 960.8 C569.8 959.0 574.1 955.4 577.4 954.8 C580.7 954.1 582.4 955.1 585.4 956.8 C588.4 958.4 592.0 961.9 595.4 964.7 C598.7 967.6 602.0 971.6 605.3 974.1 C608.6 976.6 612.3 979.1 615.3 979.7 C618.3 980.3 620.6 979.9 623.3 977.7 C625.9 975.5 628.6 971.4 631.2 966.7 C633.9 962.1 636.2 955.8 639.2 949.8 C642.2 943.8 645.9 936.7 649.2 930.8 C652.5 925.0 655.8 919.1 659.2 914.9 C662.5 910.7 665.8 907.5 669.1 905.5 C672.5 903.5 675.8 902.7 679.1 902.9 C682.4 903.2 686.1 904.8 689.1 906.9 C692.1 909.1 694.4 911.7 697.0 915.9 C699.7 920.0 702.0 926.4 705.0 931.8 C708.0 937.3 711.3 943.3 715.0 948.8 C718.7 954.3 723.0 960.4 727.0 964.7 C730.9 969.1 734.6 971.4 738.9 974.7 C743.2 978.0 748.6 981.2 752.9 984.7 C757.2 988.2 762.0 993.0 764.8 995.7 C767.7 998.3 767.8 998.2 770.0 1000.5 C772.2 1002.8 775.5 1007.3 778.2 1009.3 C780.9 1011.4 782.6 1011.8 786.4 1012.8 C790.2 1013.8 795.6 1014.4 800.8 1015.3 C805.9 1016.1 811.4 1017.2 817.2 1017.9 C823.0 1018.7 830.9 1020.0 835.6 1020.0 C840.4 1020.0 841.8 1019.1 845.9 1017.9 C850.0 1016.8 855.8 1014.3 860.3 1012.8 C864.7 1011.4 868.5 1010.4 872.6 1009.3 C876.7 1008.3 881.1 1006.9 884.9 1006.7 C888.6 1006.4 891.7 1006.8 895.1 1007.7 C898.5 1008.5 901.6 1010.4 905.4 1011.8 C909.1 1013.2 914.3 1015.6 917.7 1016.3 C921.1 1017.0 922.5 1017.0 925.9 1015.9 C929.3 1014.8 934.1 1012.0 938.2 1009.7 C942.3 1007.5 946.4 1004.7 950.5 1002.6 C954.6 1000.4 958.7 999.2 962.8 997.0 C966.9 994.8 971.0 992.8 975.1 989.2 C979.2 985.7 983.7 981.0 987.4 975.9 C991.2 970.8 994.3 964.4 997.7 958.5 C1001.1 952.5 1004.5 946.2 1007.9 940.0 C1011.4 933.8 1014.8 927.0 1018.2 921.5 C1021.6 916.1 1025.4 910.1 1028.5 907.2 C1031.5 904.3 1033.2 903.2 1036.7 904.1 C1040.1 905.0 1045.6 908.7 1049.0 912.3 C1052.4 915.9 1054.4 920.3 1057.2 925.6 C1059.9 930.9 1062.3 937.3 1065.4 944.1 C1068.5 950.9 1072.2 960.2 1075.6 966.7 C1079.1 973.2 1082.5 977.8 1085.9 983.1 C1089.3 988.4 1092.7 994.5 1096.2 998.5 C1099.6 1002.4 1103.3 1005.2 1106.4 1006.7 C1109.5 1008.1 1111.5 1008.1 1114.6 1007.3 C1117.7 1006.4 1121.1 1004.9 1124.9 1001.5 C1128.6 998.2 1133.4 991.3 1137.2 987.2 C1140.9 983.1 1143.7 980.0 1147.4 976.9 C1151.2 973.8 1156.4 970.6 1159.9 968.7 C1163.3 966.8 1164.5 964.8 1168.2 965.4 C1171.9 966.1 1177.3 969.6 1181.9 972.8 C1186.4 976.0 1190.1 980.7 1195.6 984.6 C1201.0 988.5 1209.2 995.1 1214.7 996.1 C1220.2 997.1 1223.8 993.8 1228.4 990.6 C1232.9 987.4 1237.5 982.4 1242.1 976.9 C1246.6 971.5 1251.2 962.7 1255.7 957.8 C1260.3 952.9 1265.3 949.6 1269.4 947.4 C1273.5 945.2 1275.8 943.4 1280.4 944.7 C1284.9 945.9 1291.3 951.0 1296.8 955.1 C1302.2 959.1 1307.7 964.5 1313.2 968.7 C1318.6 972.9 1325.0 980.7 1329.6 980.2 C1334.1 979.8 1336.0 975.7 1340.5 966.0 C1345.1 956.3 1351.5 934.3 1356.9 922.2 C1362.4 910.2 1368.8 899.8 1373.3 893.5 C1377.9 887.2 1379.7 885.4 1384.3 884.5 C1388.8 883.6 1395.7 888.6 1400.7 888.0 C1405.7 887.5 1409.4 886.0 1414.4 881.2 C1419.4 876.4 1425.8 867.3 1430.8 859.3 C1435.8 851.3 1440.4 838.9 1444.5 833.3 C1448.6 827.8 1451.3 826.4 1455.4 826.0 C1459.5 825.5 1464.5 826.9 1469.1 830.6 C1473.6 834.3 1478.2 842.2 1482.8 848.4 C1487.3 854.5 1491.0 861.1 1496.4 867.5 C1501.9 873.9 1509.2 879.4 1515.6 886.7 C1522.0 894.0 1528.8 902.2 1534.7 911.3 C1540.7 920.4 1546.1 931.3 1551.1 941.4 C1556.2 951.4 1560.3 961.9 1564.8 971.5 C1569.4 981.0 1574.4 991.4 1578.5 998.8 C1582.6 1006.2 1585.8 1011.0 1589.4 1015.8 C1593.1 1020.6 1597.2 1025.3 1600.4 1027.5 C1603.6 1029.8 1607.2 1029.1 1608.6 1029.5" fill="none" stroke="#008000" stroke-width="1.5"/>
<path d="M6.9 871.1 C8.1 871.1 11.2 870.5 13.8 871.1 C16.5 871.6 19.6 872.8 23.1 874.3 C26.5 875.8 30.0 876.9 34.6 880.3 C39.2 883.7 46.3 890.1 50.8 894.6 C55.2 899.1 57.7 902.7 61.2 907.3 C64.6 911.9 67.9 916.7 71.5 922.3 C75.2 927.9 79.6 934.8 83.1 940.8 C86.5 946.7 89.2 952.9 92.3 958.1 C95.4 963.3 98.5 968.7 101.5 971.9 C104.6 975.2 107.3 976.4 110.8 977.7 C114.2 979.0 118.9 980.0 122.3 980.0 C125.8 980.0 128.5 979.2 131.5 977.7 C134.6 976.2 137.3 973.9 140.8 970.8 C144.2 967.7 148.1 963.3 152.3 959.2 C156.6 955.2 161.9 950.0 166.2 946.5 C170.4 943.1 174.1 940.4 177.7 938.5 C181.4 936.5 184.6 935.0 188.1 935.0 C191.6 935.0 195.2 936.9 198.5 938.5 C201.7 940.0 204.4 941.7 207.7 944.2 C211.0 946.7 214.6 949.8 218.1 953.5 C221.6 957.1 224.8 961.4 228.5 966.2 C232.1 971.0 236.2 977.1 240.0 982.3 C243.9 987.5 248.1 993.1 251.6 997.3 C255.0 1001.6 257.7 1004.8 260.8 1007.7 C263.9 1010.6 266.6 1012.5 270.0 1014.6 C273.5 1016.7 277.3 1018.7 281.6 1020.4 C285.8 1022.1 290.8 1023.7 295.4 1025.0 C300.0 1026.4 303.5 1027.8 309.3 1028.5 C315.0 1029.1 324.3 1028.5 330.0 1028.9 C335.8 1029.4 339.6 1030.2 343.9 1031.2 C348.1 1032.2 351.6 1033.8 355.4 1034.9 C359.3 1036.1 363.1 1038.0 367.0 1038.2 C370.8 1038.4 374.3 1037.2 378.5 1036.1 C382.7 1034.9 389.4 1032.2 392.3 1031.2 C395.2 1030.3 392.0 1032.3 396.0 1030.5 C399.9 1028.8 409.6 1024.5 415.9 1020.6 C422.2 1016.7 428.2 1011.4 433.8 1007.2 C439.5 1003.1 444.8 998.6 449.8 995.7 C454.8 992.7 458.8 991.5 463.7 989.7 C468.7 987.8 474.4 986.1 479.7 984.7 C485.0 983.3 490.3 982.8 495.7 981.3 C501.0 979.8 507.0 977.0 511.6 975.7 C516.3 974.4 519.6 973.8 523.6 973.3 C527.6 972.8 531.2 973.7 535.5 972.7 C539.9 971.8 544.8 969.3 549.5 967.7 C554.1 966.2 558.5 964.6 563.4 963.3 C568.4 962.1 575.1 960.3 579.4 960.2 C583.7 960.1 586.0 961.7 589.4 962.8 C592.7 963.8 595.7 965.6 599.3 966.7 C603.0 967.8 607.3 969.6 611.3 969.3 C615.3 969.1 618.9 967.1 623.3 965.3 C627.6 963.6 631.9 961.5 637.2 958.8 C642.5 956.0 649.5 952.4 655.2 948.8 C660.8 945.1 666.1 940.8 671.1 936.8 C676.1 932.8 680.4 927.8 685.1 924.9 C689.7 922.0 695.1 919.8 699.0 919.5 C703.0 919.1 704.0 920.0 709.0 922.9 C714.0 925.8 723.3 932.5 729.0 936.8 C734.6 941.1 738.6 944.5 742.9 948.8 C747.2 953.1 750.9 957.8 754.9 962.8 C758.9 967.7 764.3 975.4 766.8 978.7 C769.4 982.0 768.1 980.7 770.0 982.7 C771.9 984.6 775.5 988.1 778.2 990.3 C780.9 992.4 782.6 993.3 786.4 995.4 C790.2 997.4 796.7 1000.3 800.8 1002.6 C804.9 1004.8 807.3 1006.7 811.0 1008.7 C814.8 1010.8 819.6 1013.5 823.3 1014.9 C827.1 1016.2 829.5 1016.5 833.6 1016.9 C837.7 1017.4 843.2 1017.7 847.9 1017.5 C852.7 1017.4 857.2 1016.4 862.3 1015.9 C867.4 1015.4 872.9 1014.9 878.7 1014.3 C884.5 1013.6 891.4 1012.4 897.2 1012.2 C903.0 1012.0 908.1 1013.1 913.6 1012.8 C919.1 1012.6 924.5 1011.6 930.0 1010.8 C935.5 1009.9 941.3 1008.4 946.4 1007.7 C951.5 1007.0 956.7 1007.4 960.8 1006.7 C964.9 1006.0 967.3 1005.5 971.0 1003.6 C974.8 1001.7 979.6 998.5 983.3 995.4 C987.1 992.3 989.8 989.4 993.6 985.1 C997.4 980.9 1001.5 975.0 1005.9 969.7 C1010.3 964.4 1015.8 958.5 1020.3 953.3 C1024.7 948.2 1028.5 942.9 1032.6 939.0 C1036.7 935.0 1041.1 931.8 1044.9 929.7 C1048.6 927.7 1051.7 926.8 1055.1 926.7 C1058.5 926.5 1061.6 927.4 1065.4 928.7 C1069.1 930.1 1073.6 931.6 1077.7 934.9 C1081.8 938.1 1085.9 943.1 1090.0 948.2 C1094.1 953.3 1098.2 960.2 1102.3 965.6 C1106.4 971.1 1111.2 977.3 1114.6 981.0 C1118.0 984.8 1119.1 986.3 1122.8 988.2 C1126.6 990.1 1132.7 991.8 1137.2 992.3 C1141.6 992.8 1145.7 992.1 1149.5 991.3 C1153.3 990.4 1155.4 989.0 1159.9 987.3 C1164.4 985.5 1170.5 982.5 1176.4 981.0 C1182.4 979.5 1189.2 978.3 1195.6 978.3 C1201.9 978.3 1208.3 980.4 1214.7 981.0 C1221.1 981.7 1227.9 982.9 1233.9 982.4 C1239.8 982.0 1244.8 980.1 1250.3 978.3 C1255.7 976.5 1261.7 973.9 1266.7 971.5 C1271.7 969.0 1274.9 966.1 1280.4 963.8 C1285.8 961.5 1293.1 958.3 1299.5 957.8 C1305.9 957.2 1313.2 959.7 1318.6 960.5 C1324.1 961.3 1327.8 962.9 1332.3 962.7 C1336.9 962.5 1340.5 961.8 1346.0 959.2 C1351.5 956.5 1358.8 951.6 1365.1 946.8 C1371.5 942.1 1378.4 936.1 1384.3 930.4 C1390.2 924.7 1395.2 919.3 1400.7 912.7 C1406.2 906.0 1412.1 897.4 1417.1 890.8 C1422.1 884.2 1426.2 878.0 1430.8 873.0 C1435.3 868.0 1439.9 863.9 1444.5 860.7 C1449.0 857.5 1453.6 855.7 1458.1 853.9 C1462.7 852.0 1466.8 851.1 1471.8 849.7 C1476.8 848.4 1483.2 846.0 1488.2 845.6 C1493.2 845.3 1497.3 845.6 1501.9 847.8 C1506.5 850.1 1510.6 853.5 1515.6 859.3 C1520.6 865.1 1526.5 874.8 1532.0 882.6 C1537.5 890.3 1542.9 897.4 1548.4 905.8 C1553.9 914.3 1559.3 923.8 1564.8 933.2 C1570.3 942.5 1576.2 953.2 1581.2 961.9 C1586.2 970.6 1590.3 978.5 1594.9 985.1 C1599.5 991.8 1606.3 998.8 1608.6 1001.6" fill="none" stroke="#ff0000" stroke-width="1.5"/>
<line x1="368" y1="1030.0" x2="1616" y2="1032.3" stroke="#2a2aff" stroke-width="1.3" stroke-dasharray="7.7 2.2 3.9 2.2"/>
<path d="M1533.4 1027.5 A65 36 0 0 0 1663.3 1027.5" fill="none" stroke="#008000" stroke-width="2.4"/>
</g>
</svg>
</body></html>
